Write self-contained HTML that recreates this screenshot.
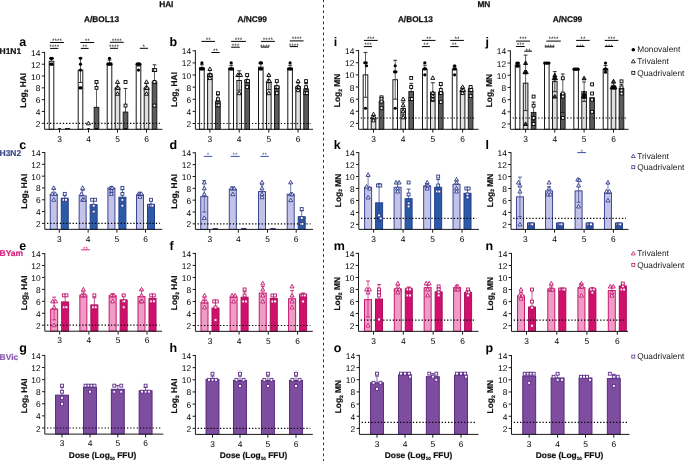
<!DOCTYPE html><html><head><meta charset="utf-8"><style>
html,body{margin:0;padding:0;background:#fff;}
svg{display:block;font-family:"Liberation Sans", sans-serif;will-change:transform;text-rendering:geometricPrecision;}
.tk{font-size:8.4px;fill:#000;}
.st{font-size:6.5px;}
.yt{font-size:8.4px;font-weight:bold;fill:#111;stroke:#111;stroke-width:0.2px;}
.hd{font-size:8.3px;font-weight:bold;fill:#111;stroke:#111;stroke-width:0.25px;}
.lt{font-size:12.5px;font-weight:bold;fill:#000;}
.rl{font-size:8.5px;font-weight:bold;stroke-width:0.2px;}
.lg{font-size:8.3px;fill:#1a1a1a;}
</style></head><body>
<svg width="685" height="461" viewBox="0 0 685 461">
<rect width="685" height="461" fill="#fff"/>
<text x="166.3" y="7.3" text-anchor="middle" class="hd">HAI</text>
<text x="483.9" y="7.3" text-anchor="middle" class="hd">MN</text>
<text x="101.5" y="22.1" text-anchor="middle" class="hd">A/BOL13</text>
<text x="252.2" y="22.1" text-anchor="middle" class="hd">A/NC99</text>
<text x="415.4" y="22.2" text-anchor="middle" class="hd">A/BOL13</text>
<text x="567.4" y="21.9" text-anchor="middle" class="hd">A/NC99</text>
<line x1="323.5" y1="-0.7" x2="323.5" y2="462" stroke="#333" stroke-width="1" stroke-dasharray="2.7 2.84"/>
<rect x="49.2" y="61.26" width="4.6" height="68.04" fill="#ffffff" stroke="#1a1a1a" stroke-width="1"/>
<line x1="51.5" y1="58.31" x2="51.5" y2="61.26" stroke="#1a1a1a" stroke-width="0.7"/>
<line x1="49.6" y1="58.31" x2="53.4" y2="58.31" stroke="#1a1a1a" stroke-width="0.9"/>
<rect x="78.2" y="70.12" width="4.6" height="59.18" fill="#ffffff" stroke="#1a1a1a" stroke-width="1"/>
<line x1="80.5" y1="57.72" x2="80.5" y2="70.12" stroke="#1a1a1a" stroke-width="0.7"/>
<line x1="78.6" y1="57.72" x2="82.4" y2="57.72" stroke="#1a1a1a" stroke-width="0.9"/>
<line x1="80.5" y1="70.12" x2="80.5" y2="82.53" stroke="#1a1a1a" stroke-width="0.7"/>
<line x1="78.6" y1="82.53" x2="82.4" y2="82.53" stroke="#1a1a1a" stroke-width="0.9"/>
<rect x="94.2" y="107.35" width="4.6" height="21.95" fill="#5c5c5c" stroke="#1a1a1a" stroke-width="1"/>
<line x1="96.5" y1="83.12" x2="96.5" y2="107.35" stroke="#1a1a1a" stroke-width="0.7"/>
<line x1="94.6" y1="83.12" x2="98.4" y2="83.12" stroke="#1a1a1a" stroke-width="0.9"/>
<rect x="107.2" y="63.03" width="4.6" height="66.27" fill="#ffffff" stroke="#1a1a1a" stroke-width="1"/>
<line x1="109.5" y1="60.08" x2="109.5" y2="63.03" stroke="#1a1a1a" stroke-width="0.7"/>
<line x1="107.6" y1="60.08" x2="111.4" y2="60.08" stroke="#1a1a1a" stroke-width="0.9"/>
<rect x="115.2" y="87.85" width="4.6" height="41.45" fill="#e0e0e0" stroke="#1a1a1a" stroke-width="1"/>
<line x1="117.5" y1="83.12" x2="117.5" y2="87.85" stroke="#1a1a1a" stroke-width="0.7"/>
<line x1="115.6" y1="83.12" x2="119.4" y2="83.12" stroke="#1a1a1a" stroke-width="0.9"/>
<rect x="123.2" y="112.07" width="4.6" height="17.23" fill="#5c5c5c" stroke="#1a1a1a" stroke-width="1"/>
<line x1="125.5" y1="88.44" x2="125.5" y2="112.07" stroke="#1a1a1a" stroke-width="0.7"/>
<line x1="123.6" y1="88.44" x2="127.4" y2="88.44" stroke="#1a1a1a" stroke-width="0.9"/>
<rect x="136.2" y="65.99" width="4.6" height="63.31" fill="#ffffff" stroke="#1a1a1a" stroke-width="1"/>
<line x1="138.5" y1="63.03" x2="138.5" y2="65.99" stroke="#1a1a1a" stroke-width="0.7"/>
<line x1="136.6" y1="63.03" x2="140.4" y2="63.03" stroke="#1a1a1a" stroke-width="0.9"/>
<rect x="144.2" y="87.85" width="4.6" height="41.45" fill="#e0e0e0" stroke="#1a1a1a" stroke-width="1"/>
<line x1="146.5" y1="83.12" x2="146.5" y2="87.85" stroke="#1a1a1a" stroke-width="0.7"/>
<line x1="144.6" y1="83.12" x2="148.4" y2="83.12" stroke="#1a1a1a" stroke-width="0.9"/>
<rect x="152.2" y="81.94" width="4.6" height="47.36" fill="#5c5c5c" stroke="#1a1a1a" stroke-width="1"/>
<line x1="154.5" y1="64.81" x2="154.5" y2="81.94" stroke="#1a1a1a" stroke-width="0.7"/>
<line x1="152.6" y1="64.81" x2="156.4" y2="64.81" stroke="#1a1a1a" stroke-width="0.9"/>
<line x1="46.8" y1="123.3" x2="159.9" y2="123.3" stroke="#000" stroke-width="1.2" stroke-dasharray="1.3 1.9"/>
<clipPath id="cla"><rect x="44.6" y="0" width="127.8" height="129.3"/></clipPath>
<g clip-path="url(#cla)">
<circle cx="50.8" cy="58.31" r="1.6" fill="#000"/>
<circle cx="52.2" cy="58.31" r="1.6" fill="#000"/>
<circle cx="50.8" cy="64.22" r="1.6" fill="#000"/>
<circle cx="52.2" cy="64.22" r="1.6" fill="#000"/>
<ellipse cx="59.5" cy="129.3" rx="1.6" ry="1.4" fill="#000"/>
<ellipse cx="66.3" cy="129.3" rx="1.6" ry="1.4" fill="#000"/>
<ellipse cx="68.7" cy="129.3" rx="1.6" ry="1.4" fill="#000"/>
<circle cx="80.5" cy="58.31" r="1.6" fill="#000"/>
<circle cx="80.5" cy="64.22" r="1.6" fill="#000"/>
<circle cx="80.5" cy="70.12" r="1.6" fill="#000"/>
<circle cx="79.8" cy="87.85" r="1.6" fill="#000"/>
<circle cx="81.2" cy="87.85" r="1.6" fill="#000"/>
<path d="M88.5 121.2L90.5 124.8L86.5 124.8Z" fill="#fff" fill-opacity="0.75" stroke="#000" stroke-width="0.9"/>
<ellipse cx="88.5" cy="129.3" rx="1.6" ry="1.4" fill="#000"/>
<rect x="95.05" y="80.49" width="2.9" height="2.9" fill="#fff" stroke="#000" stroke-width="0.9"/>
<rect x="95.05" y="86.4" width="2.9" height="2.9" fill="#fff" stroke="#000" stroke-width="0.9"/>
<ellipse cx="96.5" cy="129.3" rx="1.6" ry="1.4" fill="#000"/>
<circle cx="109.5" cy="58.31" r="1.6" fill="#000"/>
<circle cx="108.1" cy="64.22" r="1.6" fill="#000"/>
<circle cx="109.5" cy="64.22" r="1.6" fill="#000"/>
<circle cx="110.9" cy="64.22" r="1.6" fill="#000"/>
<path d="M117.5 79.84L119.5 83.44L115.5 83.44Z" fill="#fff" fill-opacity="0.75" stroke="#000" stroke-width="0.9"/>
<path d="M116.8 85.75L118.8 89.35L114.8 89.35Z" fill="#fff" fill-opacity="0.75" stroke="#000" stroke-width="0.9"/>
<path d="M118.2 85.75L120.2 89.35L116.2 89.35Z" fill="#fff" fill-opacity="0.75" stroke="#000" stroke-width="0.9"/>
<path d="M117.5 91.66L119.5 95.26L115.5 95.26Z" fill="#fff" fill-opacity="0.75" stroke="#000" stroke-width="0.9"/>
<rect x="124.05" y="80.49" width="2.9" height="2.9" fill="#fff" stroke="#000" stroke-width="0.9"/>
<rect x="124.05" y="104.12" width="2.9" height="2.9" fill="#fff" stroke="#000" stroke-width="0.9"/>
<ellipse cx="125.5" cy="129.3" rx="1.6" ry="1.4" fill="#000"/>
<circle cx="137.1" cy="64.22" r="1.6" fill="#000"/>
<circle cx="138.5" cy="64.22" r="1.6" fill="#000"/>
<circle cx="138.5" cy="70.12" r="1.6" fill="#000"/>
<circle cx="139.9" cy="64.22" r="1.6" fill="#000"/>
<path d="M146.5 79.84L148.5 83.44L144.5 83.44Z" fill="#fff" fill-opacity="0.75" stroke="#000" stroke-width="0.9"/>
<path d="M145.8 85.75L147.8 89.35L143.8 89.35Z" fill="#fff" fill-opacity="0.75" stroke="#000" stroke-width="0.9"/>
<path d="M147.2 85.75L149.2 89.35L145.2 89.35Z" fill="#fff" fill-opacity="0.75" stroke="#000" stroke-width="0.9"/>
<path d="M146.5 91.66L148.5 95.26L144.5 95.26Z" fill="#fff" fill-opacity="0.75" stroke="#000" stroke-width="0.9"/>
<rect x="152.35" y="68.67" width="2.9" height="2.9" fill="#fff" stroke="#000" stroke-width="0.9"/>
<rect x="153.75" y="68.67" width="2.9" height="2.9" fill="#fff" stroke="#000" stroke-width="0.9"/>
<rect x="153.05" y="80.49" width="2.9" height="2.9" fill="#fff" stroke="#000" stroke-width="0.9"/>
<rect x="153.05" y="104.12" width="2.9" height="2.9" fill="#fff" stroke="#000" stroke-width="0.9"/>
</g>
<path d="M44.6 51.9V129.3H162.4" fill="none" stroke="#1a1a1a" stroke-width="1"/>
<line x1="41.8" y1="123.3" x2="44.6" y2="123.3" stroke="#1a1a1a" stroke-width="1"/>
<text x="40.4" y="126.8" text-anchor="end" class="tk">2</text>
<line x1="41.8" y1="111.48" x2="44.6" y2="111.48" stroke="#1a1a1a" stroke-width="1"/>
<text x="40.4" y="114.98" text-anchor="end" class="tk">4</text>
<line x1="41.8" y1="99.67" x2="44.6" y2="99.67" stroke="#1a1a1a" stroke-width="1"/>
<text x="40.4" y="103.17" text-anchor="end" class="tk">6</text>
<line x1="41.8" y1="87.85" x2="44.6" y2="87.85" stroke="#1a1a1a" stroke-width="1"/>
<text x="40.4" y="91.35" text-anchor="end" class="tk">8</text>
<line x1="41.8" y1="76.03" x2="44.6" y2="76.03" stroke="#1a1a1a" stroke-width="1"/>
<text x="40.4" y="79.53" text-anchor="end" class="tk">10</text>
<line x1="41.8" y1="64.22" x2="44.6" y2="64.22" stroke="#1a1a1a" stroke-width="1"/>
<text x="40.4" y="67.72" text-anchor="end" class="tk">12</text>
<line x1="41.8" y1="52.4" x2="44.6" y2="52.4" stroke="#1a1a1a" stroke-width="1"/>
<text x="40.4" y="55.9" text-anchor="end" class="tk">14</text>
<line x1="59.5" y1="129.3" x2="59.5" y2="132.6" stroke="#1a1a1a" stroke-width="1"/>
<text x="59.5" y="141.5" text-anchor="middle" class="tk">3</text>
<line x1="88.5" y1="129.3" x2="88.5" y2="132.6" stroke="#1a1a1a" stroke-width="1"/>
<text x="88.5" y="141.5" text-anchor="middle" class="tk">4</text>
<line x1="117.5" y1="129.3" x2="117.5" y2="132.6" stroke="#1a1a1a" stroke-width="1"/>
<text x="117.5" y="141.5" text-anchor="middle" class="tk">5</text>
<line x1="146.5" y1="129.3" x2="146.5" y2="132.6" stroke="#1a1a1a" stroke-width="1"/>
<text x="146.5" y="141.5" text-anchor="middle" class="tk">6</text>
<line x1="50.1" y1="42.5" x2="63.9" y2="42.5" stroke="#000" stroke-width="1"/>
<text x="57" y="43" text-anchor="middle" class="st" fill="#000">****</text>
<line x1="50.1" y1="48.4" x2="58.3" y2="48.4" stroke="#000" stroke-width="1"/>
<text x="54.2" y="49.3" text-anchor="middle" class="st" fill="#000">****</text>
<line x1="80.4" y1="42.5" x2="94.1" y2="42.5" stroke="#000" stroke-width="1"/>
<text x="87.25" y="43" text-anchor="middle" class="st" fill="#000">**</text>
<line x1="80.8" y1="48.4" x2="88.6" y2="48.4" stroke="#000" stroke-width="1"/>
<text x="84.7" y="49.3" text-anchor="middle" class="st" fill="#000">**</text>
<line x1="110" y1="42.3" x2="123.7" y2="42.3" stroke="#000" stroke-width="1"/>
<text x="116.85" y="42.8" text-anchor="middle" class="st" fill="#000">****</text>
<line x1="110" y1="48.3" x2="118" y2="48.3" stroke="#000" stroke-width="1"/>
<text x="114" y="49.2" text-anchor="middle" class="st" fill="#000">****</text>
<line x1="139.8" y1="48.3" x2="147.9" y2="48.3" stroke="#000" stroke-width="1"/>
<text x="143.85" y="49.2" text-anchor="middle" class="st" fill="#000">*</text>
<text transform="translate(26.3 90.25) rotate(-90)" text-anchor="middle" class="yt">Log<tspan font-size="5" dy="1.6">2</tspan><tspan dy="-1.6"> HAI</tspan></text>
<rect x="199.6" y="67.76" width="4.6" height="61.54" fill="#ffffff" stroke="#1a1a1a" stroke-width="1"/>
<line x1="201.9" y1="64.73" x2="201.9" y2="67.76" stroke="#1a1a1a" stroke-width="0.7"/>
<line x1="200" y1="64.73" x2="203.8" y2="64.73" stroke="#1a1a1a" stroke-width="0.9"/>
<rect x="207.6" y="73.82" width="4.6" height="55.48" fill="#e0e0e0" stroke="#1a1a1a" stroke-width="1"/>
<line x1="209.9" y1="70.19" x2="209.9" y2="73.82" stroke="#1a1a1a" stroke-width="0.7"/>
<line x1="208" y1="70.19" x2="211.8" y2="70.19" stroke="#1a1a1a" stroke-width="0.9"/>
<rect x="215.6" y="101.08" width="4.6" height="28.22" fill="#5c5c5c" stroke="#1a1a1a" stroke-width="1"/>
<line x1="217.9" y1="95.03" x2="217.9" y2="101.08" stroke="#1a1a1a" stroke-width="0.7"/>
<line x1="216" y1="95.03" x2="219.8" y2="95.03" stroke="#1a1a1a" stroke-width="0.9"/>
<rect x="228.9" y="68.37" width="4.6" height="60.93" fill="#ffffff" stroke="#1a1a1a" stroke-width="1"/>
<line x1="231.2" y1="65.34" x2="231.2" y2="68.37" stroke="#1a1a1a" stroke-width="0.7"/>
<line x1="229.3" y1="65.34" x2="233.1" y2="65.34" stroke="#1a1a1a" stroke-width="0.9"/>
<rect x="236.9" y="80.49" width="4.6" height="48.81" fill="#e0e0e0" stroke="#1a1a1a" stroke-width="1"/>
<line x1="239.2" y1="70.79" x2="239.2" y2="80.49" stroke="#1a1a1a" stroke-width="0.7"/>
<line x1="237.3" y1="70.79" x2="241.1" y2="70.79" stroke="#1a1a1a" stroke-width="0.9"/>
<line x1="239.2" y1="80.49" x2="239.2" y2="90.18" stroke="#1a1a1a" stroke-width="0.7"/>
<line x1="237.3" y1="90.18" x2="241.1" y2="90.18" stroke="#1a1a1a" stroke-width="0.9"/>
<rect x="244.9" y="80.49" width="4.6" height="48.81" fill="#5c5c5c" stroke="#1a1a1a" stroke-width="1"/>
<line x1="247.2" y1="75.64" x2="247.2" y2="80.49" stroke="#1a1a1a" stroke-width="0.7"/>
<line x1="245.3" y1="75.64" x2="249.1" y2="75.64" stroke="#1a1a1a" stroke-width="0.9"/>
<rect x="258.5" y="67.16" width="4.6" height="62.14" fill="#ffffff" stroke="#1a1a1a" stroke-width="1"/>
<line x1="260.8" y1="63.52" x2="260.8" y2="67.16" stroke="#1a1a1a" stroke-width="0.7"/>
<line x1="258.9" y1="63.52" x2="262.7" y2="63.52" stroke="#1a1a1a" stroke-width="0.9"/>
<rect x="266.5" y="82.3" width="4.6" height="47" fill="#e0e0e0" stroke="#1a1a1a" stroke-width="1"/>
<line x1="268.8" y1="75.03" x2="268.8" y2="82.3" stroke="#1a1a1a" stroke-width="0.7"/>
<line x1="266.9" y1="75.03" x2="270.7" y2="75.03" stroke="#1a1a1a" stroke-width="0.9"/>
<line x1="268.8" y1="82.3" x2="268.8" y2="89.57" stroke="#1a1a1a" stroke-width="0.7"/>
<line x1="266.9" y1="89.57" x2="270.7" y2="89.57" stroke="#1a1a1a" stroke-width="0.9"/>
<rect x="274.5" y="86.54" width="4.6" height="42.76" fill="#5c5c5c" stroke="#1a1a1a" stroke-width="1"/>
<line x1="276.8" y1="81.7" x2="276.8" y2="86.54" stroke="#1a1a1a" stroke-width="0.7"/>
<line x1="274.9" y1="81.7" x2="278.7" y2="81.7" stroke="#1a1a1a" stroke-width="0.9"/>
<rect x="287.8" y="68.37" width="4.6" height="60.93" fill="#ffffff" stroke="#1a1a1a" stroke-width="1"/>
<line x1="290.1" y1="65.34" x2="290.1" y2="68.37" stroke="#1a1a1a" stroke-width="0.7"/>
<line x1="288.2" y1="65.34" x2="292" y2="65.34" stroke="#1a1a1a" stroke-width="0.9"/>
<rect x="295.8" y="86.54" width="4.6" height="42.76" fill="#e0e0e0" stroke="#1a1a1a" stroke-width="1"/>
<line x1="298.1" y1="82.91" x2="298.1" y2="86.54" stroke="#1a1a1a" stroke-width="0.7"/>
<line x1="296.2" y1="82.91" x2="300" y2="82.91" stroke="#1a1a1a" stroke-width="0.9"/>
<rect x="303.8" y="88.97" width="4.6" height="40.33" fill="#5c5c5c" stroke="#1a1a1a" stroke-width="1"/>
<line x1="306.1" y1="83.52" x2="306.1" y2="88.97" stroke="#1a1a1a" stroke-width="0.7"/>
<line x1="304.2" y1="83.52" x2="308" y2="83.52" stroke="#1a1a1a" stroke-width="0.9"/>
<line x1="197.6" y1="123.5" x2="310.5" y2="123.5" stroke="#000" stroke-width="1.2" stroke-dasharray="1.3 1.9"/>
<clipPath id="clb"><rect x="195.4" y="0" width="127.6" height="129.3"/></clipPath>
<g clip-path="url(#clb)">
<circle cx="201.9" cy="62.92" r="1.6" fill="#000"/>
<circle cx="200.5" cy="68.97" r="1.6" fill="#000"/>
<circle cx="201.9" cy="68.97" r="1.6" fill="#000"/>
<circle cx="203.3" cy="68.97" r="1.6" fill="#000"/>
<path d="M209.9 66.88L211.9 70.47L207.9 70.47Z" fill="#fff" fill-opacity="0.75" stroke="#000" stroke-width="0.9"/>
<path d="M209.2 72.93L211.2 76.53L207.2 76.53Z" fill="#fff" fill-opacity="0.75" stroke="#000" stroke-width="0.9"/>
<path d="M210.6 72.93L212.6 76.53L208.6 76.53Z" fill="#fff" fill-opacity="0.75" stroke="#000" stroke-width="0.9"/>
<path d="M209.9 75.96L211.9 79.56L207.9 79.56Z" fill="#fff" fill-opacity="0.75" stroke="#000" stroke-width="0.9"/>
<rect x="216.45" y="91.76" width="2.9" height="2.9" fill="#fff" stroke="#000" stroke-width="0.9"/>
<rect x="216.45" y="97.82" width="2.9" height="2.9" fill="#fff" stroke="#000" stroke-width="0.9"/>
<rect x="215.75" y="103.88" width="2.9" height="2.9" fill="#fff" stroke="#000" stroke-width="0.9"/>
<rect x="217.15" y="103.88" width="2.9" height="2.9" fill="#fff" stroke="#000" stroke-width="0.9"/>
<circle cx="231.2" cy="62.92" r="1.6" fill="#000"/>
<circle cx="229.8" cy="68.97" r="1.6" fill="#000"/>
<circle cx="231.2" cy="68.97" r="1.6" fill="#000"/>
<circle cx="232.6" cy="68.97" r="1.6" fill="#000"/>
<path d="M237.8 72.93L239.8 76.53L235.8 76.53Z" fill="#fff" fill-opacity="0.75" stroke="#000" stroke-width="0.9"/>
<path d="M239.2 72.93L241.2 76.53L237.2 76.53Z" fill="#fff" fill-opacity="0.75" stroke="#000" stroke-width="0.9"/>
<path d="M240.6 72.93L242.6 76.53L238.6 76.53Z" fill="#fff" fill-opacity="0.75" stroke="#000" stroke-width="0.9"/>
<path d="M239.2 91.11L241.2 94.71L237.2 94.71Z" fill="#fff" fill-opacity="0.75" stroke="#000" stroke-width="0.9"/>
<rect x="245.75" y="73.58" width="2.9" height="2.9" fill="#fff" stroke="#000" stroke-width="0.9"/>
<rect x="245.05" y="79.64" width="2.9" height="2.9" fill="#fff" stroke="#000" stroke-width="0.9"/>
<rect x="246.45" y="79.64" width="2.9" height="2.9" fill="#fff" stroke="#000" stroke-width="0.9"/>
<rect x="245.75" y="85.7" width="2.9" height="2.9" fill="#fff" stroke="#000" stroke-width="0.9"/>
<circle cx="260.1" cy="62.92" r="1.6" fill="#000"/>
<circle cx="261.5" cy="62.92" r="1.6" fill="#000"/>
<circle cx="260.1" cy="68.97" r="1.6" fill="#000"/>
<circle cx="261.5" cy="68.97" r="1.6" fill="#000"/>
<path d="M268.8 72.93L270.8 76.53L266.8 76.53Z" fill="#fff" fill-opacity="0.75" stroke="#000" stroke-width="0.9"/>
<path d="M268.1 78.99L270.1 82.59L266.1 82.59Z" fill="#fff" fill-opacity="0.75" stroke="#000" stroke-width="0.9"/>
<path d="M269.5 78.99L271.5 82.59L267.5 82.59Z" fill="#fff" fill-opacity="0.75" stroke="#000" stroke-width="0.9"/>
<path d="M268.8 91.11L270.8 94.71L266.8 94.71Z" fill="#fff" fill-opacity="0.75" stroke="#000" stroke-width="0.9"/>
<rect x="275.35" y="79.64" width="2.9" height="2.9" fill="#fff" stroke="#000" stroke-width="0.9"/>
<rect x="274.65" y="85.7" width="2.9" height="2.9" fill="#fff" stroke="#000" stroke-width="0.9"/>
<rect x="276.05" y="85.7" width="2.9" height="2.9" fill="#fff" stroke="#000" stroke-width="0.9"/>
<rect x="275.35" y="91.76" width="2.9" height="2.9" fill="#fff" stroke="#000" stroke-width="0.9"/>
<circle cx="290.1" cy="62.92" r="1.6" fill="#000"/>
<circle cx="288.7" cy="68.97" r="1.6" fill="#000"/>
<circle cx="290.1" cy="68.97" r="1.6" fill="#000"/>
<circle cx="291.5" cy="68.97" r="1.6" fill="#000"/>
<path d="M298.1 78.99L300.1 82.59L296.1 82.59Z" fill="#fff" fill-opacity="0.75" stroke="#000" stroke-width="0.9"/>
<path d="M297.4 85.05L299.4 88.65L295.4 88.65Z" fill="#fff" fill-opacity="0.75" stroke="#000" stroke-width="0.9"/>
<path d="M298.8 85.05L300.8 88.65L296.8 88.65Z" fill="#fff" fill-opacity="0.75" stroke="#000" stroke-width="0.9"/>
<path d="M298.1 88.08L300.1 91.68L296.1 91.68Z" fill="#fff" fill-opacity="0.75" stroke="#000" stroke-width="0.9"/>
<rect x="304.65" y="79.64" width="2.9" height="2.9" fill="#fff" stroke="#000" stroke-width="0.9"/>
<rect x="304.65" y="85.7" width="2.9" height="2.9" fill="#fff" stroke="#000" stroke-width="0.9"/>
<rect x="303.95" y="91.76" width="2.9" height="2.9" fill="#fff" stroke="#000" stroke-width="0.9"/>
<rect x="305.35" y="91.76" width="2.9" height="2.9" fill="#fff" stroke="#000" stroke-width="0.9"/>
</g>
<path d="M195.4 50.3V129.3H313" fill="none" stroke="#1a1a1a" stroke-width="1"/>
<line x1="192.6" y1="123.5" x2="195.4" y2="123.5" stroke="#1a1a1a" stroke-width="1"/>
<text x="191.2" y="127" text-anchor="end" class="tk">2</text>
<line x1="192.6" y1="111.38" x2="195.4" y2="111.38" stroke="#1a1a1a" stroke-width="1"/>
<text x="191.2" y="114.88" text-anchor="end" class="tk">4</text>
<line x1="192.6" y1="99.27" x2="195.4" y2="99.27" stroke="#1a1a1a" stroke-width="1"/>
<text x="191.2" y="102.77" text-anchor="end" class="tk">6</text>
<line x1="192.6" y1="87.15" x2="195.4" y2="87.15" stroke="#1a1a1a" stroke-width="1"/>
<text x="191.2" y="90.65" text-anchor="end" class="tk">8</text>
<line x1="192.6" y1="75.03" x2="195.4" y2="75.03" stroke="#1a1a1a" stroke-width="1"/>
<text x="191.2" y="78.53" text-anchor="end" class="tk">10</text>
<line x1="192.6" y1="62.92" x2="195.4" y2="62.92" stroke="#1a1a1a" stroke-width="1"/>
<text x="191.2" y="66.42" text-anchor="end" class="tk">12</text>
<line x1="192.6" y1="50.8" x2="195.4" y2="50.8" stroke="#1a1a1a" stroke-width="1"/>
<text x="191.2" y="54.3" text-anchor="end" class="tk">14</text>
<line x1="209.9" y1="129.3" x2="209.9" y2="132.6" stroke="#1a1a1a" stroke-width="1"/>
<text x="209.9" y="141.5" text-anchor="middle" class="tk">3</text>
<line x1="239.2" y1="129.3" x2="239.2" y2="132.6" stroke="#1a1a1a" stroke-width="1"/>
<text x="239.2" y="141.5" text-anchor="middle" class="tk">4</text>
<line x1="268.8" y1="129.3" x2="268.8" y2="132.6" stroke="#1a1a1a" stroke-width="1"/>
<text x="268.8" y="141.5" text-anchor="middle" class="tk">5</text>
<line x1="298.1" y1="129.3" x2="298.1" y2="132.6" stroke="#1a1a1a" stroke-width="1"/>
<text x="298.1" y="141.5" text-anchor="middle" class="tk">6</text>
<line x1="201.4" y1="41.4" x2="215" y2="41.4" stroke="#000" stroke-width="1"/>
<text x="208.2" y="41.9" text-anchor="middle" class="st" fill="#000">**</text>
<line x1="211.4" y1="52.5" x2="219.6" y2="52.5" stroke="#000" stroke-width="1"/>
<text x="215.5" y="53.2" text-anchor="middle" class="st" fill="#000">**</text>
<line x1="231.2" y1="41.4" x2="245.9" y2="41.4" stroke="#000" stroke-width="1"/>
<text x="238.55" y="41.7" text-anchor="middle" class="st" fill="#000">***</text>
<line x1="231.2" y1="47.2" x2="239.8" y2="47.2" stroke="#000" stroke-width="1"/>
<text x="235.5" y="48.4" text-anchor="middle" class="st" fill="#000">***</text>
<line x1="260.9" y1="41.4" x2="274.9" y2="41.4" stroke="#000" stroke-width="1"/>
<text x="267.9" y="41.6" text-anchor="middle" class="st" fill="#000">****</text>
<line x1="260.9" y1="47.1" x2="269" y2="47.1" stroke="#000" stroke-width="1"/>
<text x="264.95" y="48.5" text-anchor="middle" class="st" fill="#000">****</text>
<line x1="289.8" y1="40.9" x2="303.6" y2="40.9" stroke="#000" stroke-width="1"/>
<text x="296.7" y="41.1" text-anchor="middle" class="st" fill="#000">****</text>
<line x1="289.8" y1="46.6" x2="297.9" y2="46.6" stroke="#000" stroke-width="1"/>
<text x="293.85" y="48" text-anchor="middle" class="st" fill="#000">****</text>
<text transform="translate(177.1 89.45) rotate(-90)" text-anchor="middle" class="yt">Log<tspan font-size="5" dy="1.6">2</tspan><tspan dy="-1.6"> HAI</tspan></text>
<rect x="363.2" y="74.87" width="4.6" height="54.43" fill="#ffffff" stroke="#1a1a1a" stroke-width="1"/>
<line x1="365.5" y1="52.42" x2="365.5" y2="74.87" stroke="#1a1a1a" stroke-width="0.7"/>
<line x1="363.6" y1="52.42" x2="367.4" y2="52.42" stroke="#1a1a1a" stroke-width="0.9"/>
<line x1="365.5" y1="74.87" x2="365.5" y2="97.31" stroke="#1a1a1a" stroke-width="0.7"/>
<line x1="363.6" y1="97.31" x2="367.4" y2="97.31" stroke="#1a1a1a" stroke-width="0.9"/>
<rect x="371.2" y="117.64" width="4.6" height="11.66" fill="#e0e0e0" stroke="#1a1a1a" stroke-width="1"/>
<line x1="373.5" y1="115.51" x2="373.5" y2="117.64" stroke="#1a1a1a" stroke-width="0.7"/>
<line x1="371.6" y1="115.51" x2="375.4" y2="115.51" stroke="#1a1a1a" stroke-width="0.9"/>
<rect x="379.2" y="101.56" width="4.6" height="27.74" fill="#5c5c5c" stroke="#1a1a1a" stroke-width="1"/>
<line x1="381.5" y1="97.31" x2="381.5" y2="101.56" stroke="#1a1a1a" stroke-width="0.7"/>
<line x1="379.6" y1="97.31" x2="383.4" y2="97.31" stroke="#1a1a1a" stroke-width="0.9"/>
<rect x="392.9" y="79.72" width="4.6" height="49.58" fill="#ffffff" stroke="#1a1a1a" stroke-width="1"/>
<line x1="395.2" y1="60.31" x2="395.2" y2="79.72" stroke="#1a1a1a" stroke-width="0.7"/>
<line x1="393.3" y1="60.31" x2="397.1" y2="60.31" stroke="#1a1a1a" stroke-width="0.9"/>
<line x1="395.2" y1="79.72" x2="395.2" y2="99.13" stroke="#1a1a1a" stroke-width="0.7"/>
<line x1="393.3" y1="99.13" x2="397.1" y2="99.13" stroke="#1a1a1a" stroke-width="0.9"/>
<rect x="400.9" y="108.54" width="4.6" height="20.76" fill="#e0e0e0" stroke="#1a1a1a" stroke-width="1"/>
<line x1="403.2" y1="102.17" x2="403.2" y2="108.54" stroke="#1a1a1a" stroke-width="0.7"/>
<line x1="401.3" y1="102.17" x2="405.1" y2="102.17" stroke="#1a1a1a" stroke-width="0.9"/>
<line x1="403.2" y1="108.54" x2="403.2" y2="114.91" stroke="#1a1a1a" stroke-width="0.7"/>
<line x1="401.3" y1="114.91" x2="405.1" y2="114.91" stroke="#1a1a1a" stroke-width="0.9"/>
<rect x="408.9" y="91.55" width="4.6" height="37.75" fill="#5c5c5c" stroke="#1a1a1a" stroke-width="1"/>
<line x1="411.2" y1="83.36" x2="411.2" y2="91.55" stroke="#1a1a1a" stroke-width="0.7"/>
<line x1="409.3" y1="83.36" x2="413.1" y2="83.36" stroke="#1a1a1a" stroke-width="0.9"/>
<rect x="422.5" y="69.41" width="4.6" height="59.89" fill="#ffffff" stroke="#1a1a1a" stroke-width="1"/>
<line x1="424.8" y1="65.16" x2="424.8" y2="69.41" stroke="#1a1a1a" stroke-width="0.7"/>
<line x1="422.9" y1="65.16" x2="426.7" y2="65.16" stroke="#1a1a1a" stroke-width="0.9"/>
<rect x="430.5" y="92.16" width="4.6" height="37.14" fill="#e0e0e0" stroke="#1a1a1a" stroke-width="1"/>
<line x1="432.8" y1="82.75" x2="432.8" y2="92.16" stroke="#1a1a1a" stroke-width="0.7"/>
<line x1="430.9" y1="82.75" x2="434.7" y2="82.75" stroke="#1a1a1a" stroke-width="0.9"/>
<line x1="432.8" y1="92.16" x2="432.8" y2="101.56" stroke="#1a1a1a" stroke-width="0.7"/>
<line x1="430.9" y1="101.56" x2="434.7" y2="101.56" stroke="#1a1a1a" stroke-width="0.9"/>
<rect x="438.5" y="92.16" width="4.6" height="37.14" fill="#5c5c5c" stroke="#1a1a1a" stroke-width="1"/>
<line x1="440.8" y1="85.18" x2="440.8" y2="92.16" stroke="#1a1a1a" stroke-width="0.7"/>
<line x1="438.9" y1="85.18" x2="442.7" y2="85.18" stroke="#1a1a1a" stroke-width="0.9"/>
<rect x="452.3" y="69.71" width="4.6" height="59.59" fill="#ffffff" stroke="#1a1a1a" stroke-width="1"/>
<line x1="454.6" y1="66.37" x2="454.6" y2="69.71" stroke="#1a1a1a" stroke-width="0.7"/>
<line x1="452.7" y1="66.37" x2="456.5" y2="66.37" stroke="#1a1a1a" stroke-width="0.9"/>
<rect x="460.3" y="90.22" width="4.6" height="39.08" fill="#e0e0e0" stroke="#1a1a1a" stroke-width="1"/>
<line x1="462.6" y1="87.61" x2="462.6" y2="90.22" stroke="#1a1a1a" stroke-width="0.7"/>
<line x1="460.7" y1="87.61" x2="464.5" y2="87.61" stroke="#1a1a1a" stroke-width="0.9"/>
<rect x="468.3" y="90.82" width="4.6" height="38.48" fill="#5c5c5c" stroke="#1a1a1a" stroke-width="1"/>
<line x1="470.6" y1="87.61" x2="470.6" y2="90.82" stroke="#1a1a1a" stroke-width="0.7"/>
<line x1="468.7" y1="87.61" x2="472.5" y2="87.61" stroke="#1a1a1a" stroke-width="0.9"/>
<line x1="360.8" y1="118" x2="476" y2="118" stroke="#000" stroke-width="1.2" stroke-dasharray="1.3 1.9"/>
<clipPath id="cli"><rect x="358.6" y="0" width="129.9" height="129.3"/></clipPath>
<g clip-path="url(#cli)">
<circle cx="364.8" cy="62.73" r="1.6" fill="#000"/>
<circle cx="366.5" cy="65.77" r="1.6" fill="#000"/>
<circle cx="366.2" cy="62.73" r="1.6" fill="#000"/>
<circle cx="365.5" cy="108.23" r="1.6" fill="#000"/>
<path d="M373.5 112.2L375.5 115.8L371.5 115.8Z" fill="#fff" fill-opacity="0.75" stroke="#000" stroke-width="0.9"/>
<path d="M372.8 115.23L374.8 118.83L370.8 118.83Z" fill="#fff" fill-opacity="0.75" stroke="#000" stroke-width="0.9"/>
<path d="M374.2 115.23L376.2 118.83L372.2 118.83Z" fill="#fff" fill-opacity="0.75" stroke="#000" stroke-width="0.9"/>
<path d="M373.5 118.27L375.5 121.87L371.5 121.87Z" fill="#fff" fill-opacity="0.75" stroke="#000" stroke-width="0.9"/>
<rect x="380.05" y="95.86" width="2.9" height="2.9" fill="#fff" stroke="#000" stroke-width="0.9"/>
<rect x="380.05" y="97.68" width="2.9" height="2.9" fill="#fff" stroke="#000" stroke-width="0.9"/>
<rect x="380.05" y="100.11" width="2.9" height="2.9" fill="#fff" stroke="#000" stroke-width="0.9"/>
<rect x="380.05" y="106.78" width="2.9" height="2.9" fill="#fff" stroke="#000" stroke-width="0.9"/>
<circle cx="395.2" cy="65.77" r="1.6" fill="#000"/>
<circle cx="394.5" cy="71.83" r="1.6" fill="#000"/>
<circle cx="395.9" cy="71.83" r="1.6" fill="#000"/>
<circle cx="395.2" cy="108.23" r="1.6" fill="#000"/>
<path d="M403.2 97.03L405.2 100.63L401.2 100.63Z" fill="#fff" fill-opacity="0.75" stroke="#000" stroke-width="0.9"/>
<path d="M403.2 103.1L405.2 106.7L401.2 106.7Z" fill="#fff" fill-opacity="0.75" stroke="#000" stroke-width="0.9"/>
<path d="M403.2 109.17L405.2 112.77L401.2 112.77Z" fill="#fff" fill-opacity="0.75" stroke="#000" stroke-width="0.9"/>
<path d="M403.2 115.23L405.2 118.83L401.2 118.83Z" fill="#fff" fill-opacity="0.75" stroke="#000" stroke-width="0.9"/>
<rect x="409.75" y="76.45" width="2.9" height="2.9" fill="#fff" stroke="#000" stroke-width="0.9"/>
<rect x="409.75" y="85.55" width="2.9" height="2.9" fill="#fff" stroke="#000" stroke-width="0.9"/>
<rect x="409.05" y="97.68" width="2.9" height="2.9" fill="#fff" stroke="#000" stroke-width="0.9"/>
<rect x="410.45" y="97.68" width="2.9" height="2.9" fill="#fff" stroke="#000" stroke-width="0.9"/>
<circle cx="424.8" cy="62.73" r="1.6" fill="#000"/>
<circle cx="424.1" cy="68.8" r="1.6" fill="#000"/>
<circle cx="425.5" cy="68.8" r="1.6" fill="#000"/>
<circle cx="424.8" cy="74.87" r="1.6" fill="#000"/>
<path d="M432.8 75.8L434.8 79.4L430.8 79.4Z" fill="#fff" fill-opacity="0.75" stroke="#000" stroke-width="0.9"/>
<path d="M432.8 90.97L434.8 94.57L430.8 94.57Z" fill="#fff" fill-opacity="0.75" stroke="#000" stroke-width="0.9"/>
<path d="M432.8 94L434.8 97.6L430.8 97.6Z" fill="#fff" fill-opacity="0.75" stroke="#000" stroke-width="0.9"/>
<path d="M432.8 97.03L434.8 100.63L430.8 100.63Z" fill="#fff" fill-opacity="0.75" stroke="#000" stroke-width="0.9"/>
<rect x="439.35" y="82.52" width="2.9" height="2.9" fill="#fff" stroke="#000" stroke-width="0.9"/>
<rect x="439.35" y="88.58" width="2.9" height="2.9" fill="#fff" stroke="#000" stroke-width="0.9"/>
<rect x="439.35" y="91.62" width="2.9" height="2.9" fill="#fff" stroke="#000" stroke-width="0.9"/>
<rect x="439.35" y="100.72" width="2.9" height="2.9" fill="#fff" stroke="#000" stroke-width="0.9"/>
<circle cx="454.6" cy="65.77" r="1.6" fill="#000"/>
<circle cx="453.9" cy="68.8" r="1.6" fill="#000"/>
<circle cx="455.3" cy="68.8" r="1.6" fill="#000"/>
<circle cx="454.6" cy="74.87" r="1.6" fill="#000"/>
<path d="M462.6 84.9L464.6 88.5L460.6 88.5Z" fill="#fff" fill-opacity="0.75" stroke="#000" stroke-width="0.9"/>
<path d="M461.9 87.93L463.9 91.53L459.9 91.53Z" fill="#fff" fill-opacity="0.75" stroke="#000" stroke-width="0.9"/>
<path d="M463.3 87.93L465.3 91.53L461.3 91.53Z" fill="#fff" fill-opacity="0.75" stroke="#000" stroke-width="0.9"/>
<path d="M462.6 90.97L464.6 94.57L460.6 94.57Z" fill="#fff" fill-opacity="0.75" stroke="#000" stroke-width="0.9"/>
<rect x="469.15" y="85.55" width="2.9" height="2.9" fill="#fff" stroke="#000" stroke-width="0.9"/>
<rect x="468.45" y="88.58" width="2.9" height="2.9" fill="#fff" stroke="#000" stroke-width="0.9"/>
<rect x="469.85" y="88.58" width="2.9" height="2.9" fill="#fff" stroke="#000" stroke-width="0.9"/>
<rect x="469.15" y="94.65" width="2.9" height="2.9" fill="#fff" stroke="#000" stroke-width="0.9"/>
</g>
<path d="M358.6 50.1V129.3H478.5" fill="none" stroke="#1a1a1a" stroke-width="1"/>
<line x1="355.8" y1="123.4" x2="358.6" y2="123.4" stroke="#1a1a1a" stroke-width="1"/>
<text x="354.4" y="126.9" text-anchor="end" class="tk">2</text>
<line x1="355.8" y1="111.27" x2="358.6" y2="111.27" stroke="#1a1a1a" stroke-width="1"/>
<text x="354.4" y="114.77" text-anchor="end" class="tk">4</text>
<line x1="355.8" y1="99.13" x2="358.6" y2="99.13" stroke="#1a1a1a" stroke-width="1"/>
<text x="354.4" y="102.63" text-anchor="end" class="tk">6</text>
<line x1="355.8" y1="87" x2="358.6" y2="87" stroke="#1a1a1a" stroke-width="1"/>
<text x="354.4" y="90.5" text-anchor="end" class="tk">8</text>
<line x1="355.8" y1="74.87" x2="358.6" y2="74.87" stroke="#1a1a1a" stroke-width="1"/>
<text x="354.4" y="78.37" text-anchor="end" class="tk">10</text>
<line x1="355.8" y1="62.73" x2="358.6" y2="62.73" stroke="#1a1a1a" stroke-width="1"/>
<text x="354.4" y="66.23" text-anchor="end" class="tk">12</text>
<line x1="355.8" y1="50.6" x2="358.6" y2="50.6" stroke="#1a1a1a" stroke-width="1"/>
<text x="354.4" y="54.1" text-anchor="end" class="tk">14</text>
<line x1="373.5" y1="129.3" x2="373.5" y2="132.6" stroke="#1a1a1a" stroke-width="1"/>
<text x="373.5" y="141.5" text-anchor="middle" class="tk">3</text>
<line x1="403.2" y1="129.3" x2="403.2" y2="132.6" stroke="#1a1a1a" stroke-width="1"/>
<text x="403.2" y="141.5" text-anchor="middle" class="tk">4</text>
<line x1="432.8" y1="129.3" x2="432.8" y2="132.6" stroke="#1a1a1a" stroke-width="1"/>
<text x="432.8" y="141.5" text-anchor="middle" class="tk">5</text>
<line x1="462.6" y1="129.3" x2="462.6" y2="132.6" stroke="#1a1a1a" stroke-width="1"/>
<text x="462.6" y="141.5" text-anchor="middle" class="tk">6</text>
<line x1="363.9" y1="40.4" x2="377.7" y2="40.4" stroke="#000" stroke-width="1"/>
<text x="370.8" y="40.9" text-anchor="middle" class="st" fill="#000">***</text>
<line x1="363.9" y1="46.6" x2="372" y2="46.6" stroke="#000" stroke-width="1"/>
<text x="367.95" y="47.4" text-anchor="middle" class="st" fill="#000">***</text>
<line x1="421.9" y1="40.4" x2="435.5" y2="40.4" stroke="#000" stroke-width="1"/>
<text x="428.7" y="40.9" text-anchor="middle" class="st" fill="#000">**</text>
<line x1="421.9" y1="46.6" x2="429.9" y2="46.6" stroke="#000" stroke-width="1"/>
<text x="425.9" y="47.4" text-anchor="middle" class="st" fill="#000">**</text>
<line x1="450.2" y1="40.4" x2="463.9" y2="40.4" stroke="#000" stroke-width="1"/>
<text x="457.05" y="40.9" text-anchor="middle" class="st" fill="#000">**</text>
<line x1="450.2" y1="46.6" x2="458.5" y2="46.6" stroke="#000" stroke-width="1"/>
<text x="454.35" y="47.4" text-anchor="middle" class="st" fill="#000">**</text>
<text transform="translate(340.3 90.45) rotate(-90)" text-anchor="middle" class="yt">Log<tspan font-size="5" dy="1.6">2</tspan><tspan dy="-1.6"> MN</tspan></text>
<rect x="515.3" y="64.87" width="4.6" height="64.43" fill="#ffffff" stroke="#1a1a1a" stroke-width="1"/>
<line x1="517.6" y1="63.04" x2="517.6" y2="64.87" stroke="#1a1a1a" stroke-width="0.7"/>
<line x1="515.7" y1="63.04" x2="519.5" y2="63.04" stroke="#1a1a1a" stroke-width="0.9"/>
<rect x="523.3" y="83.16" width="4.6" height="46.14" fill="#e0e0e0" stroke="#1a1a1a" stroke-width="1"/>
<line x1="525.6" y1="55.12" x2="525.6" y2="83.16" stroke="#1a1a1a" stroke-width="0.7"/>
<line x1="523.7" y1="55.12" x2="527.5" y2="55.12" stroke="#1a1a1a" stroke-width="0.9"/>
<line x1="525.6" y1="83.16" x2="525.6" y2="110.59" stroke="#1a1a1a" stroke-width="0.7"/>
<line x1="523.7" y1="110.59" x2="527.5" y2="110.59" stroke="#1a1a1a" stroke-width="0.9"/>
<rect x="531.3" y="112.42" width="4.6" height="16.88" fill="#5c5c5c" stroke="#1a1a1a" stroke-width="1"/>
<line x1="533.6" y1="102.06" x2="533.6" y2="112.42" stroke="#1a1a1a" stroke-width="0.7"/>
<line x1="531.7" y1="102.06" x2="535.5" y2="102.06" stroke="#1a1a1a" stroke-width="0.9"/>
<line x1="533.6" y1="112.42" x2="533.6" y2="120.95" stroke="#1a1a1a" stroke-width="0.7"/>
<line x1="531.7" y1="120.95" x2="535.5" y2="120.95" stroke="#1a1a1a" stroke-width="0.9"/>
<rect x="544.5" y="63.04" width="4.6" height="66.26" fill="#ffffff" stroke="#1a1a1a" stroke-width="1"/>
<rect x="552.5" y="81.63" width="4.6" height="47.67" fill="#e0e0e0" stroke="#1a1a1a" stroke-width="1"/>
<line x1="554.8" y1="71.58" x2="554.8" y2="81.63" stroke="#1a1a1a" stroke-width="0.7"/>
<line x1="552.9" y1="71.58" x2="556.7" y2="71.58" stroke="#1a1a1a" stroke-width="0.9"/>
<line x1="554.8" y1="81.63" x2="554.8" y2="91.69" stroke="#1a1a1a" stroke-width="0.7"/>
<line x1="552.9" y1="91.69" x2="556.7" y2="91.69" stroke="#1a1a1a" stroke-width="0.9"/>
<rect x="560.5" y="93.52" width="4.6" height="35.78" fill="#5c5c5c" stroke="#1a1a1a" stroke-width="1"/>
<line x1="562.8" y1="74.01" x2="562.8" y2="93.52" stroke="#1a1a1a" stroke-width="0.7"/>
<line x1="560.9" y1="74.01" x2="564.7" y2="74.01" stroke="#1a1a1a" stroke-width="0.9"/>
<line x1="562.8" y1="93.52" x2="562.8" y2="112.42" stroke="#1a1a1a" stroke-width="0.7"/>
<line x1="560.9" y1="112.42" x2="564.7" y2="112.42" stroke="#1a1a1a" stroke-width="0.9"/>
<rect x="573.8" y="69.14" width="4.6" height="60.16" fill="#ffffff" stroke="#1a1a1a" stroke-width="1"/>
<rect x="581.8" y="91.69" width="4.6" height="37.61" fill="#e0e0e0" stroke="#1a1a1a" stroke-width="1"/>
<line x1="584.1" y1="81.94" x2="584.1" y2="91.69" stroke="#1a1a1a" stroke-width="0.7"/>
<line x1="582.2" y1="81.94" x2="586" y2="81.94" stroke="#1a1a1a" stroke-width="0.9"/>
<line x1="584.1" y1="91.69" x2="584.1" y2="101.45" stroke="#1a1a1a" stroke-width="0.7"/>
<line x1="582.2" y1="101.45" x2="586" y2="101.45" stroke="#1a1a1a" stroke-width="0.9"/>
<rect x="589.8" y="97.79" width="4.6" height="31.51" fill="#5c5c5c" stroke="#1a1a1a" stroke-width="1"/>
<rect x="603.2" y="69.14" width="4.6" height="60.16" fill="#ffffff" stroke="#1a1a1a" stroke-width="1"/>
<line x1="605.5" y1="65.48" x2="605.5" y2="69.14" stroke="#1a1a1a" stroke-width="0.7"/>
<line x1="603.6" y1="65.48" x2="607.4" y2="65.48" stroke="#1a1a1a" stroke-width="0.9"/>
<rect x="611.2" y="86.21" width="4.6" height="43.09" fill="#e0e0e0" stroke="#1a1a1a" stroke-width="1"/>
<line x1="613.5" y1="83.77" x2="613.5" y2="86.21" stroke="#1a1a1a" stroke-width="0.7"/>
<line x1="611.6" y1="83.77" x2="615.4" y2="83.77" stroke="#1a1a1a" stroke-width="0.9"/>
<rect x="619.2" y="88.34" width="4.6" height="40.96" fill="#5c5c5c" stroke="#1a1a1a" stroke-width="1"/>
<line x1="621.5" y1="84.38" x2="621.5" y2="88.34" stroke="#1a1a1a" stroke-width="0.7"/>
<line x1="619.6" y1="84.38" x2="623.4" y2="84.38" stroke="#1a1a1a" stroke-width="0.9"/>
<line x1="512.6" y1="118" x2="626" y2="118" stroke="#000" stroke-width="1.2" stroke-dasharray="1.3 1.9"/>
<clipPath id="clj"><rect x="510.4" y="0" width="128.1" height="129.3"/></clipPath>
<g clip-path="url(#clj)">
<circle cx="516.9" cy="63.04" r="1.6" fill="#000"/>
<circle cx="518.3" cy="63.04" r="1.6" fill="#000"/>
<circle cx="516.9" cy="66.09" r="1.6" fill="#000"/>
<circle cx="518.3" cy="66.09" r="1.6" fill="#000"/>
<path d="M525.6 60.94L527.6 64.54L523.6 64.54Z" fill="#000" fill-opacity="0.75" stroke="#000" stroke-width="0.9"/>
<path d="M524.9 70.09L526.9 73.69L522.9 73.69Z" fill="#000" fill-opacity="0.75" stroke="#000" stroke-width="0.9"/>
<path d="M526.3 70.09L528.3 73.69L524.3 73.69Z" fill="#000" fill-opacity="0.75" stroke="#000" stroke-width="0.9"/>
<path d="M525.6 121.9L527.6 125.5L523.6 125.5Z" fill="#000" fill-opacity="0.75" stroke="#000" stroke-width="0.9"/>
<rect x="532.15" y="95.12" width="2.9" height="2.9" fill="#fff" stroke="#000" stroke-width="0.9"/>
<rect x="532.15" y="104.26" width="2.9" height="2.9" fill="#fff" stroke="#000" stroke-width="0.9"/>
<rect x="532.15" y="116.45" width="2.9" height="2.9" fill="#fff" stroke="#000" stroke-width="0.9"/>
<rect x="532.15" y="122.55" width="2.9" height="2.9" fill="#fff" stroke="#000" stroke-width="0.9"/>
<circle cx="544.7" cy="63.04" r="1.6" fill="#000"/>
<circle cx="546.1" cy="63.04" r="1.6" fill="#000"/>
<circle cx="547.5" cy="63.04" r="1.6" fill="#000"/>
<circle cx="548.9" cy="63.04" r="1.6" fill="#000"/>
<path d="M554.8 73.13L556.8 76.73L552.8 76.73Z" fill="#000" fill-opacity="0.75" stroke="#000" stroke-width="0.9"/>
<path d="M554.1 76.18L556.1 79.78L552.1 79.78Z" fill="#000" fill-opacity="0.75" stroke="#000" stroke-width="0.9"/>
<path d="M555.5 76.18L557.5 79.78L553.5 79.78Z" fill="#000" fill-opacity="0.75" stroke="#000" stroke-width="0.9"/>
<path d="M554.8 94.47L556.8 98.07L552.8 98.07Z" fill="#000" fill-opacity="0.75" stroke="#000" stroke-width="0.9"/>
<rect x="561.35" y="76.83" width="2.9" height="2.9" fill="#fff" stroke="#000" stroke-width="0.9"/>
<rect x="561.35" y="92.07" width="2.9" height="2.9" fill="#fff" stroke="#000" stroke-width="0.9"/>
<rect x="561.35" y="95.12" width="2.9" height="2.9" fill="#fff" stroke="#000" stroke-width="0.9"/>
<rect x="561.35" y="116.45" width="2.9" height="2.9" fill="#fff" stroke="#000" stroke-width="0.9"/>
<circle cx="574" cy="69.14" r="1.6" fill="#000"/>
<circle cx="575.4" cy="69.14" r="1.6" fill="#000"/>
<circle cx="576.8" cy="69.14" r="1.6" fill="#000"/>
<circle cx="578.2" cy="69.14" r="1.6" fill="#000"/>
<path d="M584.1 76.18L586.1 79.78L582.1 79.78Z" fill="#000" fill-opacity="0.75" stroke="#000" stroke-width="0.9"/>
<path d="M584.1 91.42L586.1 95.02L582.1 95.02Z" fill="#000" fill-opacity="0.75" stroke="#000" stroke-width="0.9"/>
<path d="M583.4 94.47L585.4 98.07L581.4 98.07Z" fill="#000" fill-opacity="0.75" stroke="#000" stroke-width="0.9"/>
<path d="M584.8 94.47L586.8 98.07L582.8 98.07Z" fill="#000" fill-opacity="0.75" stroke="#000" stroke-width="0.9"/>
<rect x="590.65" y="82.93" width="2.9" height="2.9" fill="#fff" stroke="#000" stroke-width="0.9"/>
<rect x="590.65" y="92.07" width="2.9" height="2.9" fill="#fff" stroke="#000" stroke-width="0.9"/>
<rect x="590.65" y="98.17" width="2.9" height="2.9" fill="#fff" stroke="#000" stroke-width="0.9"/>
<rect x="590.65" y="110.36" width="2.9" height="2.9" fill="#fff" stroke="#000" stroke-width="0.9"/>
<circle cx="605.5" cy="63.04" r="1.6" fill="#000"/>
<circle cx="604.8" cy="69.14" r="1.6" fill="#000"/>
<circle cx="606.2" cy="69.14" r="1.6" fill="#000"/>
<circle cx="605.5" cy="72.19" r="1.6" fill="#000"/>
<path d="M613.5 79.23L615.5 82.83L611.5 82.83Z" fill="#000" fill-opacity="0.75" stroke="#000" stroke-width="0.9"/>
<path d="M612.1 85.33L614.1 88.92L610.1 88.92Z" fill="#000" fill-opacity="0.75" stroke="#000" stroke-width="0.9"/>
<path d="M613.5 85.33L615.5 88.92L611.5 88.92Z" fill="#000" fill-opacity="0.75" stroke="#000" stroke-width="0.9"/>
<path d="M614.9 85.33L616.9 88.92L612.9 88.92Z" fill="#000" fill-opacity="0.75" stroke="#000" stroke-width="0.9"/>
<rect x="620.05" y="79.88" width="2.9" height="2.9" fill="#fff" stroke="#000" stroke-width="0.9"/>
<rect x="620.05" y="85.97" width="2.9" height="2.9" fill="#fff" stroke="#000" stroke-width="0.9"/>
<rect x="620.05" y="89.02" width="2.9" height="2.9" fill="#fff" stroke="#000" stroke-width="0.9"/>
<rect x="620.05" y="92.07" width="2.9" height="2.9" fill="#fff" stroke="#000" stroke-width="0.9"/>
</g>
<path d="M510.4 50.35V129.3H628.5" fill="none" stroke="#1a1a1a" stroke-width="1"/>
<line x1="507.6" y1="124" x2="510.4" y2="124" stroke="#1a1a1a" stroke-width="1"/>
<text x="506.2" y="127.5" text-anchor="end" class="tk">2</text>
<line x1="507.6" y1="111.81" x2="510.4" y2="111.81" stroke="#1a1a1a" stroke-width="1"/>
<text x="506.2" y="115.31" text-anchor="end" class="tk">4</text>
<line x1="507.6" y1="99.62" x2="510.4" y2="99.62" stroke="#1a1a1a" stroke-width="1"/>
<text x="506.2" y="103.12" text-anchor="end" class="tk">6</text>
<line x1="507.6" y1="87.42" x2="510.4" y2="87.42" stroke="#1a1a1a" stroke-width="1"/>
<text x="506.2" y="90.92" text-anchor="end" class="tk">8</text>
<line x1="507.6" y1="75.23" x2="510.4" y2="75.23" stroke="#1a1a1a" stroke-width="1"/>
<text x="506.2" y="78.73" text-anchor="end" class="tk">10</text>
<line x1="507.6" y1="63.04" x2="510.4" y2="63.04" stroke="#1a1a1a" stroke-width="1"/>
<text x="506.2" y="66.54" text-anchor="end" class="tk">12</text>
<line x1="507.6" y1="50.85" x2="510.4" y2="50.85" stroke="#1a1a1a" stroke-width="1"/>
<text x="506.2" y="54.35" text-anchor="end" class="tk">14</text>
<line x1="525.6" y1="129.3" x2="525.6" y2="132.6" stroke="#1a1a1a" stroke-width="1"/>
<text x="525.6" y="141.5" text-anchor="middle" class="tk">3</text>
<line x1="554.8" y1="129.3" x2="554.8" y2="132.6" stroke="#1a1a1a" stroke-width="1"/>
<text x="554.8" y="141.5" text-anchor="middle" class="tk">4</text>
<line x1="584.1" y1="129.3" x2="584.1" y2="132.6" stroke="#1a1a1a" stroke-width="1"/>
<text x="584.1" y="141.5" text-anchor="middle" class="tk">5</text>
<line x1="613.5" y1="129.3" x2="613.5" y2="132.6" stroke="#1a1a1a" stroke-width="1"/>
<text x="613.5" y="141.5" text-anchor="middle" class="tk">6</text>
<line x1="516.1" y1="41.1" x2="530" y2="41.1" stroke="#000" stroke-width="1"/>
<text x="523.05" y="41.3" text-anchor="middle" class="st" fill="#000">***</text>
<line x1="516.1" y1="46.5" x2="524.8" y2="46.5" stroke="#000" stroke-width="1"/>
<text x="520.45" y="47.2" text-anchor="middle" class="st" fill="#000">***</text>
<line x1="524.3" y1="51.2" x2="532" y2="51.2" stroke="#000" stroke-width="1"/>
<text x="528.15" y="52.8" text-anchor="middle" class="st" fill="#000">**</text>
<line x1="546.4" y1="41.1" x2="560.8" y2="41.1" stroke="#000" stroke-width="1"/>
<text x="553.6" y="41.4" text-anchor="middle" class="st" fill="#000">****</text>
<line x1="544.7" y1="46.9" x2="554.5" y2="46.9" stroke="#000" stroke-width="1"/>
<text x="549.6" y="49.1" text-anchor="middle" class="st" fill="#000">****</text>
<line x1="576.1" y1="40.4" x2="589.7" y2="40.4" stroke="#000" stroke-width="1"/>
<text x="582.9" y="41.3" text-anchor="middle" class="st" fill="#000">**</text>
<line x1="576.1" y1="46.5" x2="584.5" y2="46.5" stroke="#000" stroke-width="1"/>
<text x="580.3" y="49.1" text-anchor="middle" class="st" fill="#000">***</text>
<line x1="604.7" y1="40.4" x2="618.4" y2="40.4" stroke="#000" stroke-width="1"/>
<text x="611.55" y="41.1" text-anchor="middle" class="st" fill="#000">***</text>
<line x1="604.7" y1="46.5" x2="613.2" y2="46.5" stroke="#000" stroke-width="1"/>
<text x="608.95" y="48.8" text-anchor="middle" class="st" fill="#000">***</text>
<text transform="translate(492.1 90.58) rotate(-90)" text-anchor="middle" class="yt">Log<tspan font-size="5" dy="1.6">2</tspan><tspan dy="-1.6"> MN</tspan></text>
<rect x="50.25" y="194.45" width="7" height="34.9" fill="#c3c3e9" stroke="#3d4895" stroke-width="1"/>
<line x1="53.75" y1="188.54" x2="53.75" y2="194.45" stroke="#3d4895" stroke-width="0.7"/>
<line x1="51.85" y1="188.54" x2="55.65" y2="188.54" stroke="#3d4895" stroke-width="0.9"/>
<rect x="61.25" y="198.29" width="7" height="31.06" fill="#2b5aa8" stroke="#233f8a" stroke-width="1"/>
<line x1="64.75" y1="195.63" x2="64.75" y2="198.29" stroke="#233f8a" stroke-width="0.7"/>
<line x1="62.85" y1="195.63" x2="66.65" y2="195.63" stroke="#233f8a" stroke-width="0.9"/>
<rect x="79.15" y="195.81" width="7" height="33.54" fill="#c3c3e9" stroke="#3d4895" stroke-width="1"/>
<line x1="82.65" y1="190.31" x2="82.65" y2="195.81" stroke="#3d4895" stroke-width="0.7"/>
<line x1="80.75" y1="190.31" x2="84.55" y2="190.31" stroke="#3d4895" stroke-width="0.9"/>
<rect x="90.15" y="204.67" width="7" height="24.68" fill="#2b5aa8" stroke="#233f8a" stroke-width="1"/>
<line x1="93.65" y1="199.77" x2="93.65" y2="204.67" stroke="#233f8a" stroke-width="0.7"/>
<line x1="91.75" y1="199.77" x2="95.55" y2="199.77" stroke="#233f8a" stroke-width="0.9"/>
<rect x="107.9" y="187.95" width="7" height="41.4" fill="#c3c3e9" stroke="#3d4895" stroke-width="1"/>
<line x1="111.4" y1="186.77" x2="111.4" y2="187.95" stroke="#3d4895" stroke-width="0.7"/>
<line x1="109.5" y1="186.77" x2="113.3" y2="186.77" stroke="#3d4895" stroke-width="0.9"/>
<rect x="118.9" y="197.23" width="7" height="32.12" fill="#2b5aa8" stroke="#233f8a" stroke-width="1"/>
<line x1="122.4" y1="189.72" x2="122.4" y2="197.23" stroke="#233f8a" stroke-width="0.7"/>
<line x1="120.5" y1="189.72" x2="124.3" y2="189.72" stroke="#233f8a" stroke-width="0.9"/>
<rect x="136.5" y="194.8" width="7" height="34.55" fill="#c3c3e9" stroke="#3d4895" stroke-width="1"/>
<line x1="140" y1="193.86" x2="140" y2="194.8" stroke="#3d4895" stroke-width="0.7"/>
<line x1="138.1" y1="193.86" x2="141.9" y2="193.86" stroke="#3d4895" stroke-width="0.9"/>
<rect x="147.5" y="204.49" width="7" height="24.86" fill="#2b5aa8" stroke="#233f8a" stroke-width="1"/>
<line x1="151" y1="200.95" x2="151" y2="204.49" stroke="#233f8a" stroke-width="0.7"/>
<line x1="149.1" y1="200.95" x2="152.9" y2="200.95" stroke="#233f8a" stroke-width="0.9"/>
<line x1="47" y1="223.4" x2="159.8" y2="223.4" stroke="#000" stroke-width="1.2" stroke-dasharray="1.3 1.9"/>
<clipPath id="clc"><rect x="44.8" y="0" width="127.5" height="229.35"/></clipPath>
<g clip-path="url(#clc)">
<path d="M53.75 185.85L55.75 189.45L51.75 189.45Z" fill="#fff" fill-opacity="0.75" stroke="#2e3a87" stroke-width="0.9"/>
<path d="M52.25 191.76L54.25 195.36L50.25 195.36Z" fill="#fff" fill-opacity="0.75" stroke="#2e3a87" stroke-width="0.9"/>
<path d="M55.25 191.76L57.25 195.36L53.25 195.36Z" fill="#fff" fill-opacity="0.75" stroke="#2e3a87" stroke-width="0.9"/>
<path d="M53.75 197.67L55.75 201.27L51.75 201.27Z" fill="#fff" fill-opacity="0.75" stroke="#2e3a87" stroke-width="0.9"/>
<rect x="63.3" y="192.41" width="2.9" height="2.9" fill="#fff" stroke="#2e3a87" stroke-width="0.9"/>
<rect x="62.1" y="198.32" width="2.9" height="2.9" fill="#fff" stroke="#2e3a87" stroke-width="0.9"/>
<rect x="64.5" y="198.32" width="2.9" height="2.9" fill="#fff" stroke="#2e3a87" stroke-width="0.9"/>
<path d="M82.65 185.85L84.65 189.45L80.65 189.45Z" fill="#fff" fill-opacity="0.75" stroke="#2e3a87" stroke-width="0.9"/>
<path d="M81.45 191.76L83.45 195.36L79.45 195.36Z" fill="#fff" fill-opacity="0.75" stroke="#2e3a87" stroke-width="0.9"/>
<path d="M82.65 197.67L84.65 201.27L80.65 201.27Z" fill="#fff" fill-opacity="0.75" stroke="#2e3a87" stroke-width="0.9"/>
<path d="M84.15 197.67L86.15 201.27L82.15 201.27Z" fill="#fff" fill-opacity="0.75" stroke="#2e3a87" stroke-width="0.9"/>
<rect x="90.7" y="198.32" width="2.9" height="2.9" fill="#fff" stroke="#2e3a87" stroke-width="0.9"/>
<rect x="93.7" y="198.32" width="2.9" height="2.9" fill="#fff" stroke="#2e3a87" stroke-width="0.9"/>
<rect x="92.2" y="204.23" width="2.9" height="2.9" fill="#fff" stroke="#2e3a87" stroke-width="0.9"/>
<rect x="92.2" y="210.13" width="2.9" height="2.9" fill="#fff" stroke="#2e3a87" stroke-width="0.9"/>
<path d="M110.7 185.85L112.7 189.45L108.7 189.45Z" fill="#fff" fill-opacity="0.75" stroke="#2e3a87" stroke-width="0.9"/>
<path d="M112.1 185.85L114.1 189.45L110.1 189.45Z" fill="#fff" fill-opacity="0.75" stroke="#2e3a87" stroke-width="0.9"/>
<path d="M111.4 188.8L113.4 192.4L109.4 192.4Z" fill="#fff" fill-opacity="0.75" stroke="#2e3a87" stroke-width="0.9"/>
<path d="M111.4 191.76L113.4 195.36L109.4 195.36Z" fill="#fff" fill-opacity="0.75" stroke="#2e3a87" stroke-width="0.9"/>
<rect x="120.95" y="186.5" width="2.9" height="2.9" fill="#fff" stroke="#2e3a87" stroke-width="0.9"/>
<rect x="120.95" y="192.41" width="2.9" height="2.9" fill="#fff" stroke="#2e3a87" stroke-width="0.9"/>
<rect x="120.95" y="198.32" width="2.9" height="2.9" fill="#fff" stroke="#2e3a87" stroke-width="0.9"/>
<rect x="120.95" y="204.23" width="2.9" height="2.9" fill="#fff" stroke="#2e3a87" stroke-width="0.9"/>
<path d="M138.6 191.76L140.6 195.36L136.6 195.36Z" fill="#fff" fill-opacity="0.75" stroke="#2e3a87" stroke-width="0.9"/>
<path d="M140 191.76L142 195.36L138 195.36Z" fill="#fff" fill-opacity="0.75" stroke="#2e3a87" stroke-width="0.9"/>
<path d="M141.4 191.76L143.4 195.36L139.4 195.36Z" fill="#fff" fill-opacity="0.75" stroke="#2e3a87" stroke-width="0.9"/>
<path d="M140 194.71L142 198.31L138 198.31Z" fill="#fff" fill-opacity="0.75" stroke="#2e3a87" stroke-width="0.9"/>
<rect x="149.55" y="198.32" width="2.9" height="2.9" fill="#fff" stroke="#2e3a87" stroke-width="0.9"/>
<rect x="148.05" y="204.23" width="2.9" height="2.9" fill="#fff" stroke="#2e3a87" stroke-width="0.9"/>
<rect x="149.55" y="204.23" width="2.9" height="2.9" fill="#fff" stroke="#2e3a87" stroke-width="0.9"/>
<rect x="151.05" y="204.23" width="2.9" height="2.9" fill="#fff" stroke="#2e3a87" stroke-width="0.9"/>
</g>
<path d="M44.8 152V229.35H162.3" fill="none" stroke="#1a1a1a" stroke-width="1"/>
<line x1="42" y1="223.4" x2="44.8" y2="223.4" stroke="#1a1a1a" stroke-width="1"/>
<text x="40.6" y="226.9" text-anchor="end" class="tk">2</text>
<line x1="42" y1="211.58" x2="44.8" y2="211.58" stroke="#1a1a1a" stroke-width="1"/>
<text x="40.6" y="215.08" text-anchor="end" class="tk">4</text>
<line x1="42" y1="199.77" x2="44.8" y2="199.77" stroke="#1a1a1a" stroke-width="1"/>
<text x="40.6" y="203.27" text-anchor="end" class="tk">6</text>
<line x1="42" y1="187.95" x2="44.8" y2="187.95" stroke="#1a1a1a" stroke-width="1"/>
<text x="40.6" y="191.45" text-anchor="end" class="tk">8</text>
<line x1="42" y1="176.13" x2="44.8" y2="176.13" stroke="#1a1a1a" stroke-width="1"/>
<text x="40.6" y="179.63" text-anchor="end" class="tk">10</text>
<line x1="42" y1="164.32" x2="44.8" y2="164.32" stroke="#1a1a1a" stroke-width="1"/>
<text x="40.6" y="167.82" text-anchor="end" class="tk">12</text>
<line x1="42" y1="152.5" x2="44.8" y2="152.5" stroke="#1a1a1a" stroke-width="1"/>
<text x="40.6" y="156" text-anchor="end" class="tk">14</text>
<line x1="59.25" y1="229.35" x2="59.25" y2="232.65" stroke="#1a1a1a" stroke-width="1"/>
<text x="59.25" y="241.55" text-anchor="middle" class="tk">3</text>
<line x1="88.15" y1="229.35" x2="88.15" y2="232.65" stroke="#1a1a1a" stroke-width="1"/>
<text x="88.15" y="241.55" text-anchor="middle" class="tk">4</text>
<line x1="116.9" y1="229.35" x2="116.9" y2="232.65" stroke="#1a1a1a" stroke-width="1"/>
<text x="116.9" y="241.55" text-anchor="middle" class="tk">5</text>
<line x1="145.5" y1="229.35" x2="145.5" y2="232.65" stroke="#1a1a1a" stroke-width="1"/>
<text x="145.5" y="241.55" text-anchor="middle" class="tk">6</text>
<text transform="translate(26.5 191.23) rotate(-90)" text-anchor="middle" class="yt">Log<tspan font-size="5" dy="1.6">2</tspan><tspan dy="-1.6"> HAI</tspan></text>
<rect x="200.75" y="196.61" width="7" height="32.79" fill="#c3c3e9" stroke="#3d4895" stroke-width="1"/>
<line x1="204.25" y1="180.63" x2="204.25" y2="196.61" stroke="#3d4895" stroke-width="0.7"/>
<line x1="202.35" y1="180.63" x2="206.15" y2="180.63" stroke="#3d4895" stroke-width="0.9"/>
<line x1="204.25" y1="196.61" x2="204.25" y2="212.01" stroke="#3d4895" stroke-width="0.7"/>
<line x1="202.35" y1="212.01" x2="206.15" y2="212.01" stroke="#3d4895" stroke-width="0.9"/>
<rect x="229.3" y="189.51" width="7" height="39.89" fill="#c3c3e9" stroke="#3d4895" stroke-width="1"/>
<line x1="232.8" y1="187.73" x2="232.8" y2="189.51" stroke="#3d4895" stroke-width="0.7"/>
<line x1="230.9" y1="187.73" x2="234.7" y2="187.73" stroke="#3d4895" stroke-width="0.9"/>
<rect x="258.5" y="191.58" width="7" height="37.82" fill="#c3c3e9" stroke="#3d4895" stroke-width="1"/>
<line x1="262" y1="184.77" x2="262" y2="191.58" stroke="#3d4895" stroke-width="0.7"/>
<line x1="260.1" y1="184.77" x2="263.9" y2="184.77" stroke="#3d4895" stroke-width="0.9"/>
<rect x="287.2" y="194.25" width="7" height="35.15" fill="#c3c3e9" stroke="#3d4895" stroke-width="1"/>
<line x1="290.7" y1="183" x2="290.7" y2="194.25" stroke="#3d4895" stroke-width="0.7"/>
<line x1="288.8" y1="183" x2="292.6" y2="183" stroke="#3d4895" stroke-width="0.9"/>
<rect x="298.2" y="216.75" width="7" height="12.66" fill="#2b5aa8" stroke="#233f8a" stroke-width="1"/>
<line x1="301.7" y1="210.82" x2="301.7" y2="216.75" stroke="#233f8a" stroke-width="0.7"/>
<line x1="299.8" y1="210.82" x2="303.6" y2="210.82" stroke="#233f8a" stroke-width="0.9"/>
<line x1="197.6" y1="223.85" x2="310.5" y2="223.85" stroke="#000" stroke-width="1.2" stroke-dasharray="1.3 1.9"/>
<clipPath id="cld"><rect x="195.4" y="0" width="127.6" height="229.4"/></clipPath>
<g clip-path="url(#cld)">
<path d="M204.25 180.3L206.25 183.9L202.25 183.9Z" fill="#fff" fill-opacity="0.75" stroke="#2e3a87" stroke-width="0.9"/>
<path d="M204.25 186.22L206.25 189.82L202.25 189.82Z" fill="#fff" fill-opacity="0.75" stroke="#2e3a87" stroke-width="0.9"/>
<path d="M204.25 192.15L206.25 195.75L202.25 195.75Z" fill="#fff" fill-opacity="0.75" stroke="#2e3a87" stroke-width="0.9"/>
<path d="M204.25 215.83L206.25 219.43L202.25 219.43Z" fill="#fff" fill-opacity="0.75" stroke="#2e3a87" stroke-width="0.9"/>
<ellipse cx="213.85" cy="229.4" rx="1.6" ry="1.4" fill="#2e3a87"/>
<ellipse cx="215.25" cy="229.4" rx="1.6" ry="1.4" fill="#2e3a87"/>
<ellipse cx="216.65" cy="229.4" rx="1.6" ry="1.4" fill="#2e3a87"/>
<path d="M232.8 186.22L234.8 189.82L230.8 189.82Z" fill="#fff" fill-opacity="0.75" stroke="#2e3a87" stroke-width="0.9"/>
<path d="M231.3 186.22L233.3 189.82L229.3 189.82Z" fill="#fff" fill-opacity="0.75" stroke="#2e3a87" stroke-width="0.9"/>
<path d="M234.3 186.22L236.3 189.82L232.3 189.82Z" fill="#fff" fill-opacity="0.75" stroke="#2e3a87" stroke-width="0.9"/>
<path d="M232.8 192.15L234.8 195.75L230.8 195.75Z" fill="#fff" fill-opacity="0.75" stroke="#2e3a87" stroke-width="0.9"/>
<ellipse cx="242.4" cy="229.4" rx="1.6" ry="1.4" fill="#2e3a87"/>
<ellipse cx="243.8" cy="229.4" rx="1.6" ry="1.4" fill="#2e3a87"/>
<ellipse cx="245.2" cy="229.4" rx="1.6" ry="1.4" fill="#2e3a87"/>
<path d="M262 180.3L264 183.9L260 183.9Z" fill="#fff" fill-opacity="0.75" stroke="#2e3a87" stroke-width="0.9"/>
<path d="M262 186.22L264 189.82L260 189.82Z" fill="#fff" fill-opacity="0.75" stroke="#2e3a87" stroke-width="0.9"/>
<path d="M262 192.15L264 195.75L260 195.75Z" fill="#fff" fill-opacity="0.75" stroke="#2e3a87" stroke-width="0.9"/>
<path d="M262 195.11L264 198.71L260 198.71Z" fill="#fff" fill-opacity="0.75" stroke="#2e3a87" stroke-width="0.9"/>
<ellipse cx="271.6" cy="229.4" rx="1.6" ry="1.4" fill="#2e3a87"/>
<ellipse cx="273" cy="229.4" rx="1.6" ry="1.4" fill="#2e3a87"/>
<ellipse cx="274.4" cy="229.4" rx="1.6" ry="1.4" fill="#2e3a87"/>
<path d="M290.7 180.3L292.7 183.9L288.7 183.9Z" fill="#fff" fill-opacity="0.75" stroke="#2e3a87" stroke-width="0.9"/>
<path d="M290.7 192.15L292.7 195.75L288.7 195.75Z" fill="#fff" fill-opacity="0.75" stroke="#2e3a87" stroke-width="0.9"/>
<path d="M292.2 192.15L294.2 195.75L290.2 195.75Z" fill="#fff" fill-opacity="0.75" stroke="#2e3a87" stroke-width="0.9"/>
<path d="M290.7 198.07L292.7 201.67L288.7 201.67Z" fill="#fff" fill-opacity="0.75" stroke="#2e3a87" stroke-width="0.9"/>
<rect x="300.25" y="207.6" width="2.9" height="2.9" fill="#fff" stroke="#2e3a87" stroke-width="0.9"/>
<rect x="300.25" y="216.48" width="2.9" height="2.9" fill="#fff" stroke="#2e3a87" stroke-width="0.9"/>
<rect x="299.55" y="222.4" width="2.9" height="2.9" fill="#fff" stroke="#2e3a87" stroke-width="0.9"/>
<rect x="300.95" y="222.4" width="2.9" height="2.9" fill="#fff" stroke="#2e3a87" stroke-width="0.9"/>
</g>
<path d="M195.4 152.3V229.4H313" fill="none" stroke="#1a1a1a" stroke-width="1"/>
<line x1="192.6" y1="223.85" x2="195.4" y2="223.85" stroke="#1a1a1a" stroke-width="1"/>
<text x="191.2" y="227.35" text-anchor="end" class="tk">2</text>
<line x1="192.6" y1="212.01" x2="195.4" y2="212.01" stroke="#1a1a1a" stroke-width="1"/>
<text x="191.2" y="215.51" text-anchor="end" class="tk">4</text>
<line x1="192.6" y1="200.17" x2="195.4" y2="200.17" stroke="#1a1a1a" stroke-width="1"/>
<text x="191.2" y="203.67" text-anchor="end" class="tk">6</text>
<line x1="192.6" y1="188.32" x2="195.4" y2="188.32" stroke="#1a1a1a" stroke-width="1"/>
<text x="191.2" y="191.82" text-anchor="end" class="tk">8</text>
<line x1="192.6" y1="176.48" x2="195.4" y2="176.48" stroke="#1a1a1a" stroke-width="1"/>
<text x="191.2" y="179.98" text-anchor="end" class="tk">10</text>
<line x1="192.6" y1="164.64" x2="195.4" y2="164.64" stroke="#1a1a1a" stroke-width="1"/>
<text x="191.2" y="168.14" text-anchor="end" class="tk">12</text>
<line x1="192.6" y1="152.8" x2="195.4" y2="152.8" stroke="#1a1a1a" stroke-width="1"/>
<text x="191.2" y="156.3" text-anchor="end" class="tk">14</text>
<line x1="209.75" y1="229.4" x2="209.75" y2="232.7" stroke="#1a1a1a" stroke-width="1"/>
<text x="209.75" y="241.6" text-anchor="middle" class="tk">3</text>
<line x1="238.3" y1="229.4" x2="238.3" y2="232.7" stroke="#1a1a1a" stroke-width="1"/>
<text x="238.3" y="241.6" text-anchor="middle" class="tk">4</text>
<line x1="267.5" y1="229.4" x2="267.5" y2="232.7" stroke="#1a1a1a" stroke-width="1"/>
<text x="267.5" y="241.6" text-anchor="middle" class="tk">5</text>
<line x1="296.2" y1="229.4" x2="296.2" y2="232.7" stroke="#1a1a1a" stroke-width="1"/>
<text x="296.2" y="241.6" text-anchor="middle" class="tk">6</text>
<line x1="203.9" y1="156.4" x2="212.2" y2="156.4" stroke="#3a4fa6" stroke-width="1"/>
<text x="208.05" y="157.3" text-anchor="middle" class="st" fill="#3a4fa6">*</text>
<line x1="230.7" y1="156.4" x2="239.6" y2="156.4" stroke="#3a4fa6" stroke-width="1"/>
<text x="235.15" y="157.3" text-anchor="middle" class="st" fill="#3a4fa6">**</text>
<line x1="260.4" y1="156.4" x2="268.7" y2="156.4" stroke="#3a4fa6" stroke-width="1"/>
<text x="264.55" y="157.3" text-anchor="middle" class="st" fill="#3a4fa6">**</text>
<text transform="translate(177.1 191.4) rotate(-90)" text-anchor="middle" class="yt">Log<tspan font-size="5" dy="1.6">2</tspan><tspan dy="-1.6"> HAI</tspan></text>
<rect x="364.6" y="187.3" width="7" height="42.1" fill="#c3c3e9" stroke="#3d4895" stroke-width="1"/>
<line x1="368.1" y1="176.53" x2="368.1" y2="187.3" stroke="#3d4895" stroke-width="0.7"/>
<line x1="366.2" y1="176.53" x2="370" y2="176.53" stroke="#3d4895" stroke-width="0.9"/>
<rect x="375.6" y="202.86" width="7" height="26.54" fill="#2b5aa8" stroke="#233f8a" stroke-width="1"/>
<line x1="379.1" y1="183.71" x2="379.1" y2="202.86" stroke="#233f8a" stroke-width="0.7"/>
<line x1="377.2" y1="183.71" x2="381" y2="183.71" stroke="#233f8a" stroke-width="0.9"/>
<line x1="379.1" y1="202.86" x2="379.1" y2="221.41" stroke="#233f8a" stroke-width="0.7"/>
<line x1="377.2" y1="221.41" x2="381" y2="221.41" stroke="#233f8a" stroke-width="0.9"/>
<rect x="394.1" y="187.3" width="7" height="42.1" fill="#c3c3e9" stroke="#3d4895" stroke-width="1"/>
<line x1="397.6" y1="182.52" x2="397.6" y2="187.3" stroke="#3d4895" stroke-width="0.7"/>
<line x1="395.7" y1="182.52" x2="399.5" y2="182.52" stroke="#3d4895" stroke-width="0.9"/>
<rect x="405.1" y="198.67" width="7" height="30.73" fill="#2b5aa8" stroke="#233f8a" stroke-width="1"/>
<line x1="408.6" y1="189.1" x2="408.6" y2="198.67" stroke="#233f8a" stroke-width="0.7"/>
<line x1="406.7" y1="189.1" x2="410.5" y2="189.1" stroke="#233f8a" stroke-width="0.9"/>
<rect x="423.65" y="185.81" width="7" height="43.59" fill="#c3c3e9" stroke="#3d4895" stroke-width="1"/>
<line x1="427.15" y1="183.71" x2="427.15" y2="185.81" stroke="#3d4895" stroke-width="0.7"/>
<line x1="425.25" y1="183.71" x2="429.05" y2="183.71" stroke="#3d4895" stroke-width="0.9"/>
<rect x="434.65" y="187.3" width="7" height="42.1" fill="#2b5aa8" stroke="#233f8a" stroke-width="1"/>
<line x1="438.15" y1="179.53" x2="438.15" y2="187.3" stroke="#233f8a" stroke-width="0.7"/>
<line x1="436.25" y1="179.53" x2="440.05" y2="179.53" stroke="#233f8a" stroke-width="0.9"/>
<rect x="453" y="184.31" width="7" height="45.09" fill="#c3c3e9" stroke="#3d4895" stroke-width="1"/>
<line x1="456.5" y1="180.72" x2="456.5" y2="184.31" stroke="#3d4895" stroke-width="0.7"/>
<line x1="454.6" y1="180.72" x2="458.4" y2="180.72" stroke="#3d4895" stroke-width="0.9"/>
<rect x="464" y="193.29" width="7" height="36.11" fill="#2b5aa8" stroke="#233f8a" stroke-width="1"/>
<line x1="467.5" y1="189.1" x2="467.5" y2="193.29" stroke="#233f8a" stroke-width="0.7"/>
<line x1="465.6" y1="189.1" x2="469.4" y2="189.1" stroke="#233f8a" stroke-width="0.9"/>
<line x1="361" y1="218.3" x2="476.5" y2="218.3" stroke="#000" stroke-width="1.2" stroke-dasharray="1.3 1.9"/>
<clipPath id="clk"><rect x="358.8" y="0" width="130.2" height="229.4"/></clipPath>
<g clip-path="url(#clk)">
<path d="M368.1 172.64L370.1 176.24L366.1 176.24Z" fill="#fff" fill-opacity="0.75" stroke="#2e3a87" stroke-width="0.9"/>
<path d="M366.6 184.6L368.6 188.2L364.6 188.2Z" fill="#fff" fill-opacity="0.75" stroke="#2e3a87" stroke-width="0.9"/>
<path d="M369.6 186.4L371.6 190L367.6 190Z" fill="#fff" fill-opacity="0.75" stroke="#2e3a87" stroke-width="0.9"/>
<path d="M368.1 195.38L370.1 198.97L366.1 198.97Z" fill="#fff" fill-opacity="0.75" stroke="#2e3a87" stroke-width="0.9"/>
<rect x="376.45" y="184.06" width="2.9" height="2.9" fill="#fff" stroke="#2e3a87" stroke-width="0.9"/>
<rect x="378.85" y="184.06" width="2.9" height="2.9" fill="#fff" stroke="#2e3a87" stroke-width="0.9"/>
<rect x="377.65" y="213.98" width="2.9" height="2.9" fill="#fff" stroke="#2e3a87" stroke-width="0.9"/>
<rect x="379.15" y="216.97" width="2.9" height="2.9" fill="#fff" stroke="#2e3a87" stroke-width="0.9"/>
<path d="M396.1 180.42L398.1 184.02L394.1 184.02Z" fill="#fff" fill-opacity="0.75" stroke="#2e3a87" stroke-width="0.9"/>
<path d="M399.1 180.42L401.1 184.02L397.1 184.02Z" fill="#fff" fill-opacity="0.75" stroke="#2e3a87" stroke-width="0.9"/>
<path d="M397.6 186.4L399.6 190L395.6 190Z" fill="#fff" fill-opacity="0.75" stroke="#2e3a87" stroke-width="0.9"/>
<path d="M397.6 189.39L399.6 192.99L395.6 192.99Z" fill="#fff" fill-opacity="0.75" stroke="#2e3a87" stroke-width="0.9"/>
<rect x="407.15" y="181.07" width="2.9" height="2.9" fill="#fff" stroke="#2e3a87" stroke-width="0.9"/>
<rect x="407.15" y="193.03" width="2.9" height="2.9" fill="#fff" stroke="#2e3a87" stroke-width="0.9"/>
<rect x="407.15" y="202.01" width="2.9" height="2.9" fill="#fff" stroke="#2e3a87" stroke-width="0.9"/>
<rect x="407.15" y="205" width="2.9" height="2.9" fill="#fff" stroke="#2e3a87" stroke-width="0.9"/>
<path d="M427.15 180.42L429.15 184.02L425.15 184.02Z" fill="#fff" fill-opacity="0.75" stroke="#2e3a87" stroke-width="0.9"/>
<path d="M426.45 183.41L428.45 187.01L424.45 187.01Z" fill="#fff" fill-opacity="0.75" stroke="#2e3a87" stroke-width="0.9"/>
<path d="M427.85 183.41L429.85 187.01L425.85 187.01Z" fill="#fff" fill-opacity="0.75" stroke="#2e3a87" stroke-width="0.9"/>
<path d="M427.15 186.4L429.15 190L425.15 190Z" fill="#fff" fill-opacity="0.75" stroke="#2e3a87" stroke-width="0.9"/>
<rect x="436.7" y="175.08" width="2.9" height="2.9" fill="#fff" stroke="#2e3a87" stroke-width="0.9"/>
<rect x="436.7" y="184.06" width="2.9" height="2.9" fill="#fff" stroke="#2e3a87" stroke-width="0.9"/>
<rect x="435.5" y="190.04" width="2.9" height="2.9" fill="#fff" stroke="#2e3a87" stroke-width="0.9"/>
<rect x="437.9" y="190.04" width="2.9" height="2.9" fill="#fff" stroke="#2e3a87" stroke-width="0.9"/>
<path d="M456.5 177.43L458.5 181.03L454.5 181.03Z" fill="#fff" fill-opacity="0.75" stroke="#2e3a87" stroke-width="0.9"/>
<path d="M456.5 180.42L458.5 184.02L454.5 184.02Z" fill="#fff" fill-opacity="0.75" stroke="#2e3a87" stroke-width="0.9"/>
<path d="M456.5 186.4L458.5 190L454.5 190Z" fill="#fff" fill-opacity="0.75" stroke="#2e3a87" stroke-width="0.9"/>
<path d="M456.5 189.39L458.5 192.99L454.5 192.99Z" fill="#fff" fill-opacity="0.75" stroke="#2e3a87" stroke-width="0.9"/>
<rect x="464.85" y="187.05" width="2.9" height="2.9" fill="#fff" stroke="#2e3a87" stroke-width="0.9"/>
<rect x="467.25" y="187.05" width="2.9" height="2.9" fill="#fff" stroke="#2e3a87" stroke-width="0.9"/>
<rect x="466.05" y="193.03" width="2.9" height="2.9" fill="#fff" stroke="#2e3a87" stroke-width="0.9"/>
<rect x="466.05" y="196.03" width="2.9" height="2.9" fill="#fff" stroke="#2e3a87" stroke-width="0.9"/>
</g>
<path d="M358.8 152.1V229.4H479" fill="none" stroke="#1a1a1a" stroke-width="1"/>
<line x1="356" y1="224.4" x2="358.8" y2="224.4" stroke="#1a1a1a" stroke-width="1"/>
<text x="354.6" y="227.9" text-anchor="end" class="tk">2</text>
<line x1="356" y1="212.43" x2="358.8" y2="212.43" stroke="#1a1a1a" stroke-width="1"/>
<text x="354.6" y="215.93" text-anchor="end" class="tk">4</text>
<line x1="356" y1="200.47" x2="358.8" y2="200.47" stroke="#1a1a1a" stroke-width="1"/>
<text x="354.6" y="203.97" text-anchor="end" class="tk">6</text>
<line x1="356" y1="188.5" x2="358.8" y2="188.5" stroke="#1a1a1a" stroke-width="1"/>
<text x="354.6" y="192" text-anchor="end" class="tk">8</text>
<line x1="356" y1="176.53" x2="358.8" y2="176.53" stroke="#1a1a1a" stroke-width="1"/>
<text x="354.6" y="180.03" text-anchor="end" class="tk">10</text>
<line x1="356" y1="164.57" x2="358.8" y2="164.57" stroke="#1a1a1a" stroke-width="1"/>
<text x="354.6" y="168.07" text-anchor="end" class="tk">12</text>
<line x1="356" y1="152.6" x2="358.8" y2="152.6" stroke="#1a1a1a" stroke-width="1"/>
<text x="354.6" y="156.1" text-anchor="end" class="tk">14</text>
<line x1="373.6" y1="229.4" x2="373.6" y2="232.7" stroke="#1a1a1a" stroke-width="1"/>
<text x="373.6" y="241.6" text-anchor="middle" class="tk">3</text>
<line x1="403.1" y1="229.4" x2="403.1" y2="232.7" stroke="#1a1a1a" stroke-width="1"/>
<text x="403.1" y="241.6" text-anchor="middle" class="tk">4</text>
<line x1="432.65" y1="229.4" x2="432.65" y2="232.7" stroke="#1a1a1a" stroke-width="1"/>
<text x="432.65" y="241.6" text-anchor="middle" class="tk">5</text>
<line x1="462" y1="229.4" x2="462" y2="232.7" stroke="#1a1a1a" stroke-width="1"/>
<text x="462" y="241.6" text-anchor="middle" class="tk">6</text>
<text transform="translate(340.5 190.4) rotate(-90)" text-anchor="middle" class="yt">Log<tspan font-size="5" dy="1.6">2</tspan><tspan dy="-1.6"> MN</tspan></text>
<rect x="516.45" y="196.88" width="7" height="32.52" fill="#c3c3e9" stroke="#3d4895" stroke-width="1"/>
<line x1="519.95" y1="177.13" x2="519.95" y2="196.88" stroke="#3d4895" stroke-width="0.7"/>
<line x1="518.05" y1="177.13" x2="521.85" y2="177.13" stroke="#3d4895" stroke-width="0.9"/>
<line x1="519.95" y1="196.88" x2="519.95" y2="216.62" stroke="#3d4895" stroke-width="0.7"/>
<line x1="518.05" y1="216.62" x2="521.85" y2="216.62" stroke="#3d4895" stroke-width="0.9"/>
<rect x="527.45" y="223.2" width="7" height="6.2" fill="#2b5aa8" stroke="#233f8a" stroke-width="1"/>
<rect x="545.55" y="190.89" width="7" height="38.51" fill="#c3c3e9" stroke="#3d4895" stroke-width="1"/>
<line x1="549.05" y1="186.7" x2="549.05" y2="190.89" stroke="#3d4895" stroke-width="0.7"/>
<line x1="547.15" y1="186.7" x2="550.95" y2="186.7" stroke="#3d4895" stroke-width="0.9"/>
<rect x="556.55" y="223.2" width="7" height="6.2" fill="#2b5aa8" stroke="#233f8a" stroke-width="1"/>
<rect x="575.1" y="190.89" width="7" height="38.51" fill="#c3c3e9" stroke="#3d4895" stroke-width="1"/>
<line x1="578.6" y1="179.53" x2="578.6" y2="190.89" stroke="#3d4895" stroke-width="0.7"/>
<line x1="576.7" y1="179.53" x2="580.5" y2="179.53" stroke="#3d4895" stroke-width="0.9"/>
<line x1="578.6" y1="190.89" x2="578.6" y2="202.26" stroke="#3d4895" stroke-width="0.7"/>
<line x1="576.7" y1="202.26" x2="580.5" y2="202.26" stroke="#3d4895" stroke-width="0.9"/>
<rect x="586.1" y="223.2" width="7" height="6.2" fill="#2b5aa8" stroke="#233f8a" stroke-width="1"/>
<rect x="604.45" y="193.29" width="7" height="36.11" fill="#c3c3e9" stroke="#3d4895" stroke-width="1"/>
<line x1="607.95" y1="183.12" x2="607.95" y2="193.29" stroke="#3d4895" stroke-width="0.7"/>
<line x1="606.05" y1="183.12" x2="609.85" y2="183.12" stroke="#3d4895" stroke-width="0.9"/>
<rect x="615.45" y="223.2" width="7" height="6.2" fill="#2b5aa8" stroke="#233f8a" stroke-width="1"/>
<line x1="513.2" y1="218.3" x2="626" y2="218.3" stroke="#000" stroke-width="1.2" stroke-dasharray="1.3 1.9"/>
<clipPath id="cll"><rect x="511" y="0" width="127.5" height="229.4"/></clipPath>
<g clip-path="url(#cll)">
<path d="M518.45 180.42L520.45 184.02L516.45 184.02Z" fill="#fff" fill-opacity="0.75" stroke="#2e3a87" stroke-width="0.9"/>
<path d="M519.95 183.41L521.95 187.01L517.95 187.01Z" fill="#fff" fill-opacity="0.75" stroke="#2e3a87" stroke-width="0.9"/>
<path d="M519.95 189.39L521.95 192.99L517.95 192.99Z" fill="#fff" fill-opacity="0.75" stroke="#2e3a87" stroke-width="0.9"/>
<path d="M519.95 222.3L521.95 225.9L517.95 225.9Z" fill="#fff" fill-opacity="0.75" stroke="#2e3a87" stroke-width="0.9"/>
<rect x="528.1" y="222.95" width="2.9" height="2.9" fill="#fff" stroke="#2e3a87" stroke-width="0.9"/>
<rect x="529.5" y="222.95" width="2.9" height="2.9" fill="#fff" stroke="#2e3a87" stroke-width="0.9"/>
<rect x="530.9" y="222.95" width="2.9" height="2.9" fill="#fff" stroke="#2e3a87" stroke-width="0.9"/>
<path d="M549.05 180.42L551.05 184.02L547.05 184.02Z" fill="#fff" fill-opacity="0.75" stroke="#2e3a87" stroke-width="0.9"/>
<path d="M549.05 186.4L551.05 190L547.05 190Z" fill="#fff" fill-opacity="0.75" stroke="#2e3a87" stroke-width="0.9"/>
<path d="M547.55 192.38L549.55 195.98L545.55 195.98Z" fill="#fff" fill-opacity="0.75" stroke="#2e3a87" stroke-width="0.9"/>
<path d="M550.55 192.38L552.55 195.98L548.55 195.98Z" fill="#fff" fill-opacity="0.75" stroke="#2e3a87" stroke-width="0.9"/>
<rect x="557.2" y="222.95" width="2.9" height="2.9" fill="#fff" stroke="#2e3a87" stroke-width="0.9"/>
<rect x="558.6" y="222.95" width="2.9" height="2.9" fill="#fff" stroke="#2e3a87" stroke-width="0.9"/>
<rect x="560" y="222.95" width="2.9" height="2.9" fill="#fff" stroke="#2e3a87" stroke-width="0.9"/>
<path d="M577.8 177.43L579.8 181.03L575.8 181.03Z" fill="#fff" fill-opacity="0.75" stroke="#2e3a87" stroke-width="0.9"/>
<path d="M579.4 178.02L581.4 181.62L577.4 181.62Z" fill="#fff" fill-opacity="0.75" stroke="#2e3a87" stroke-width="0.9"/>
<path d="M578.6 183.41L580.6 187.01L576.6 187.01Z" fill="#fff" fill-opacity="0.75" stroke="#2e3a87" stroke-width="0.9"/>
<path d="M578.6 204.35L580.6 207.95L576.6 207.95Z" fill="#fff" fill-opacity="0.75" stroke="#2e3a87" stroke-width="0.9"/>
<rect x="586.75" y="222.95" width="2.9" height="2.9" fill="#fff" stroke="#2e3a87" stroke-width="0.9"/>
<rect x="588.15" y="222.95" width="2.9" height="2.9" fill="#fff" stroke="#2e3a87" stroke-width="0.9"/>
<rect x="589.55" y="222.95" width="2.9" height="2.9" fill="#fff" stroke="#2e3a87" stroke-width="0.9"/>
<path d="M607.95 180.42L609.95 184.02L605.95 184.02Z" fill="#fff" fill-opacity="0.75" stroke="#2e3a87" stroke-width="0.9"/>
<path d="M606.45 189.39L608.45 192.99L604.45 192.99Z" fill="#fff" fill-opacity="0.75" stroke="#2e3a87" stroke-width="0.9"/>
<path d="M609.45 189.39L611.45 192.99L607.45 192.99Z" fill="#fff" fill-opacity="0.75" stroke="#2e3a87" stroke-width="0.9"/>
<path d="M607.95 198.37L609.95 201.97L605.95 201.97Z" fill="#fff" fill-opacity="0.75" stroke="#2e3a87" stroke-width="0.9"/>
<rect x="616.1" y="222.95" width="2.9" height="2.9" fill="#fff" stroke="#2e3a87" stroke-width="0.9"/>
<rect x="617.5" y="222.95" width="2.9" height="2.9" fill="#fff" stroke="#2e3a87" stroke-width="0.9"/>
<rect x="618.9" y="222.95" width="2.9" height="2.9" fill="#fff" stroke="#2e3a87" stroke-width="0.9"/>
</g>
<path d="M511 152.1V229.4H628.5" fill="none" stroke="#1a1a1a" stroke-width="1"/>
<line x1="508.2" y1="224.4" x2="511" y2="224.4" stroke="#1a1a1a" stroke-width="1"/>
<text x="506.8" y="227.9" text-anchor="end" class="tk">2</text>
<line x1="508.2" y1="212.43" x2="511" y2="212.43" stroke="#1a1a1a" stroke-width="1"/>
<text x="506.8" y="215.93" text-anchor="end" class="tk">4</text>
<line x1="508.2" y1="200.47" x2="511" y2="200.47" stroke="#1a1a1a" stroke-width="1"/>
<text x="506.8" y="203.97" text-anchor="end" class="tk">6</text>
<line x1="508.2" y1="188.5" x2="511" y2="188.5" stroke="#1a1a1a" stroke-width="1"/>
<text x="506.8" y="192" text-anchor="end" class="tk">8</text>
<line x1="508.2" y1="176.53" x2="511" y2="176.53" stroke="#1a1a1a" stroke-width="1"/>
<text x="506.8" y="180.03" text-anchor="end" class="tk">10</text>
<line x1="508.2" y1="164.57" x2="511" y2="164.57" stroke="#1a1a1a" stroke-width="1"/>
<text x="506.8" y="168.07" text-anchor="end" class="tk">12</text>
<line x1="508.2" y1="152.6" x2="511" y2="152.6" stroke="#1a1a1a" stroke-width="1"/>
<text x="506.8" y="156.1" text-anchor="end" class="tk">14</text>
<line x1="525.45" y1="229.4" x2="525.45" y2="232.7" stroke="#1a1a1a" stroke-width="1"/>
<text x="525.45" y="241.6" text-anchor="middle" class="tk">3</text>
<line x1="554.55" y1="229.4" x2="554.55" y2="232.7" stroke="#1a1a1a" stroke-width="1"/>
<text x="554.55" y="241.6" text-anchor="middle" class="tk">4</text>
<line x1="584.1" y1="229.4" x2="584.1" y2="232.7" stroke="#1a1a1a" stroke-width="1"/>
<text x="584.1" y="241.6" text-anchor="middle" class="tk">5</text>
<line x1="613.45" y1="229.4" x2="613.45" y2="232.7" stroke="#1a1a1a" stroke-width="1"/>
<text x="613.45" y="241.6" text-anchor="middle" class="tk">6</text>
<line x1="577.3" y1="152.6" x2="586" y2="152.6" stroke="#3a4fa6" stroke-width="1"/>
<text x="581.65" y="153.7" text-anchor="middle" class="st" fill="#3a4fa6">*</text>
<text transform="translate(492.7 190.4) rotate(-90)" text-anchor="middle" class="yt">Log<tspan font-size="5" dy="1.6">2</tspan><tspan dy="-1.6"> MN</tspan></text>
<rect x="50.65" y="309.09" width="7" height="22.11" fill="#ef9cc6" stroke="#c8186e" stroke-width="1"/>
<line x1="54.15" y1="297.16" x2="54.15" y2="309.09" stroke="#c8186e" stroke-width="0.7"/>
<line x1="52.25" y1="297.16" x2="56.05" y2="297.16" stroke="#c8186e" stroke-width="0.9"/>
<line x1="54.15" y1="309.09" x2="54.15" y2="319.83" stroke="#c8186e" stroke-width="0.7"/>
<line x1="52.25" y1="319.83" x2="56.05" y2="319.83" stroke="#c8186e" stroke-width="0.9"/>
<rect x="61.65" y="301.93" width="7" height="29.27" fill="#d0106c" stroke="#a80f58" stroke-width="1"/>
<line x1="65.15" y1="295.37" x2="65.15" y2="301.93" stroke="#a80f58" stroke-width="0.7"/>
<line x1="63.25" y1="295.37" x2="67.05" y2="295.37" stroke="#a80f58" stroke-width="0.9"/>
<rect x="79.85" y="295.07" width="7" height="36.13" fill="#ef9cc6" stroke="#c8186e" stroke-width="1"/>
<line x1="83.35" y1="291.79" x2="83.35" y2="295.07" stroke="#c8186e" stroke-width="0.7"/>
<line x1="81.45" y1="291.79" x2="85.25" y2="291.79" stroke="#c8186e" stroke-width="0.9"/>
<rect x="90.85" y="304.91" width="7" height="26.29" fill="#d0106c" stroke="#a80f58" stroke-width="1"/>
<line x1="94.35" y1="297.75" x2="94.35" y2="304.91" stroke="#a80f58" stroke-width="0.7"/>
<line x1="92.45" y1="297.75" x2="96.25" y2="297.75" stroke="#a80f58" stroke-width="0.9"/>
<rect x="109.15" y="295.66" width="7" height="35.54" fill="#ef9cc6" stroke="#c8186e" stroke-width="1"/>
<line x1="112.65" y1="294.17" x2="112.65" y2="295.66" stroke="#c8186e" stroke-width="0.7"/>
<line x1="110.75" y1="294.17" x2="114.55" y2="294.17" stroke="#c8186e" stroke-width="0.9"/>
<rect x="120.15" y="299.96" width="7" height="31.24" fill="#d0106c" stroke="#a80f58" stroke-width="1"/>
<line x1="123.65" y1="295.37" x2="123.65" y2="299.96" stroke="#a80f58" stroke-width="0.7"/>
<line x1="121.75" y1="295.37" x2="125.55" y2="295.37" stroke="#a80f58" stroke-width="0.9"/>
<rect x="138" y="296.56" width="7" height="34.64" fill="#ef9cc6" stroke="#c8186e" stroke-width="1"/>
<line x1="141.5" y1="290" x2="141.5" y2="296.56" stroke="#c8186e" stroke-width="0.7"/>
<line x1="139.6" y1="290" x2="143.4" y2="290" stroke="#c8186e" stroke-width="0.9"/>
<rect x="149" y="298.35" width="7" height="32.85" fill="#d0106c" stroke="#a80f58" stroke-width="1"/>
<line x1="152.5" y1="294.77" x2="152.5" y2="298.35" stroke="#a80f58" stroke-width="0.7"/>
<line x1="150.6" y1="294.77" x2="154.4" y2="294.77" stroke="#a80f58" stroke-width="0.9"/>
<line x1="47" y1="325.2" x2="159.5" y2="325.2" stroke="#000" stroke-width="1.2" stroke-dasharray="1.3 1.9"/>
<clipPath id="cle"><rect x="44.8" y="0" width="127.2" height="331.2"/></clipPath>
<g clip-path="url(#cle)">
<path d="M52.65 299.23L54.65 302.83L50.65 302.83Z" fill="#fff" fill-opacity="0.75" stroke="#c0136b" stroke-width="0.9"/>
<path d="M55.65 299.23L57.65 302.83L53.65 302.83Z" fill="#fff" fill-opacity="0.75" stroke="#c0136b" stroke-width="0.9"/>
<path d="M54.15 305.2L56.15 308.8L52.15 308.8Z" fill="#fff" fill-opacity="0.75" stroke="#c0136b" stroke-width="0.9"/>
<path d="M54.15 323.1L56.15 326.7L52.15 326.7Z" fill="#fff" fill-opacity="0.75" stroke="#c0136b" stroke-width="0.9"/>
<rect x="62.4" y="293.92" width="2.9" height="2.9" fill="#fff" stroke="#c0136b" stroke-width="0.9"/>
<rect x="65" y="293.92" width="2.9" height="2.9" fill="#fff" stroke="#c0136b" stroke-width="0.9"/>
<rect x="62.4" y="305.85" width="2.9" height="2.9" fill="#fff" stroke="#c0136b" stroke-width="0.9"/>
<rect x="65" y="305.85" width="2.9" height="2.9" fill="#fff" stroke="#c0136b" stroke-width="0.9"/>
<path d="M83.35 287.3L85.35 290.9L81.35 290.9Z" fill="#fff" fill-opacity="0.75" stroke="#c0136b" stroke-width="0.9"/>
<path d="M83.35 293.27L85.35 296.87L81.35 296.87Z" fill="#fff" fill-opacity="0.75" stroke="#c0136b" stroke-width="0.9"/>
<path d="M81.85 293.27L83.85 296.87L79.85 296.87Z" fill="#fff" fill-opacity="0.75" stroke="#c0136b" stroke-width="0.9"/>
<path d="M84.85 293.27L86.85 296.87L82.85 296.87Z" fill="#fff" fill-opacity="0.75" stroke="#c0136b" stroke-width="0.9"/>
<rect x="92.9" y="293.92" width="2.9" height="2.9" fill="#fff" stroke="#c0136b" stroke-width="0.9"/>
<rect x="91.6" y="305.85" width="2.9" height="2.9" fill="#fff" stroke="#c0136b" stroke-width="0.9"/>
<rect x="94.2" y="305.85" width="2.9" height="2.9" fill="#fff" stroke="#c0136b" stroke-width="0.9"/>
<path d="M112.65 293.27L114.65 296.87L110.65 296.87Z" fill="#fff" fill-opacity="0.75" stroke="#c0136b" stroke-width="0.9"/>
<path d="M111.35 293.27L113.35 296.87L109.35 296.87Z" fill="#fff" fill-opacity="0.75" stroke="#c0136b" stroke-width="0.9"/>
<path d="M113.95 293.27L115.95 296.87L111.95 296.87Z" fill="#fff" fill-opacity="0.75" stroke="#c0136b" stroke-width="0.9"/>
<path d="M112.65 299.23L114.65 302.83L110.65 302.83Z" fill="#fff" fill-opacity="0.75" stroke="#c0136b" stroke-width="0.9"/>
<rect x="122.2" y="293.92" width="2.9" height="2.9" fill="#fff" stroke="#c0136b" stroke-width="0.9"/>
<rect x="121.5" y="299.88" width="2.9" height="2.9" fill="#fff" stroke="#c0136b" stroke-width="0.9"/>
<rect x="122.9" y="299.88" width="2.9" height="2.9" fill="#fff" stroke="#c0136b" stroke-width="0.9"/>
<rect x="122.2" y="305.85" width="2.9" height="2.9" fill="#fff" stroke="#c0136b" stroke-width="0.9"/>
<path d="M141.5 287.3L143.5 290.9L139.5 290.9Z" fill="#fff" fill-opacity="0.75" stroke="#c0136b" stroke-width="0.9"/>
<path d="M141.5 293.27L143.5 296.87L139.5 296.87Z" fill="#fff" fill-opacity="0.75" stroke="#c0136b" stroke-width="0.9"/>
<path d="M140.8 299.23L142.8 302.83L138.8 302.83Z" fill="#fff" fill-opacity="0.75" stroke="#c0136b" stroke-width="0.9"/>
<path d="M142.2 299.23L144.2 302.83L140.2 302.83Z" fill="#fff" fill-opacity="0.75" stroke="#c0136b" stroke-width="0.9"/>
<rect x="149.75" y="293.92" width="2.9" height="2.9" fill="#fff" stroke="#c0136b" stroke-width="0.9"/>
<rect x="152.35" y="293.92" width="2.9" height="2.9" fill="#fff" stroke="#c0136b" stroke-width="0.9"/>
<rect x="149.75" y="299.88" width="2.9" height="2.9" fill="#fff" stroke="#c0136b" stroke-width="0.9"/>
<rect x="152.35" y="299.88" width="2.9" height="2.9" fill="#fff" stroke="#c0136b" stroke-width="0.9"/>
</g>
<path d="M44.8 253.1V331.2H162" fill="none" stroke="#1a1a1a" stroke-width="1"/>
<line x1="42" y1="325.2" x2="44.8" y2="325.2" stroke="#1a1a1a" stroke-width="1"/>
<text x="40.6" y="328.7" text-anchor="end" class="tk">2</text>
<line x1="42" y1="313.27" x2="44.8" y2="313.27" stroke="#1a1a1a" stroke-width="1"/>
<text x="40.6" y="316.77" text-anchor="end" class="tk">4</text>
<line x1="42" y1="301.33" x2="44.8" y2="301.33" stroke="#1a1a1a" stroke-width="1"/>
<text x="40.6" y="304.83" text-anchor="end" class="tk">6</text>
<line x1="42" y1="289.4" x2="44.8" y2="289.4" stroke="#1a1a1a" stroke-width="1"/>
<text x="40.6" y="292.9" text-anchor="end" class="tk">8</text>
<line x1="42" y1="277.47" x2="44.8" y2="277.47" stroke="#1a1a1a" stroke-width="1"/>
<text x="40.6" y="280.97" text-anchor="end" class="tk">10</text>
<line x1="42" y1="265.53" x2="44.8" y2="265.53" stroke="#1a1a1a" stroke-width="1"/>
<text x="40.6" y="269.03" text-anchor="end" class="tk">12</text>
<line x1="42" y1="253.6" x2="44.8" y2="253.6" stroke="#1a1a1a" stroke-width="1"/>
<text x="40.6" y="257.1" text-anchor="end" class="tk">14</text>
<line x1="59.65" y1="331.2" x2="59.65" y2="334.5" stroke="#1a1a1a" stroke-width="1"/>
<text x="59.65" y="343.4" text-anchor="middle" class="tk">3</text>
<line x1="88.85" y1="331.2" x2="88.85" y2="334.5" stroke="#1a1a1a" stroke-width="1"/>
<text x="88.85" y="343.4" text-anchor="middle" class="tk">4</text>
<line x1="118.15" y1="331.2" x2="118.15" y2="334.5" stroke="#1a1a1a" stroke-width="1"/>
<text x="118.15" y="343.4" text-anchor="middle" class="tk">5</text>
<line x1="147" y1="331.2" x2="147" y2="334.5" stroke="#1a1a1a" stroke-width="1"/>
<text x="147" y="343.4" text-anchor="middle" class="tk">6</text>
<line x1="81.2" y1="249.8" x2="89.8" y2="249.8" stroke="#d6237f" stroke-width="1"/>
<text x="85.5" y="251.1" text-anchor="middle" class="st" fill="#d6237f">**</text>
<text transform="translate(26.5 292.8) rotate(-90)" text-anchor="middle" class="yt">Log<tspan font-size="5" dy="1.6">2</tspan><tspan dy="-1.6"> HAI</tspan></text>
<rect x="201" y="302.67" width="7" height="28.68" fill="#ef9cc6" stroke="#c8186e" stroke-width="1"/>
<line x1="204.5" y1="297.86" x2="204.5" y2="302.67" stroke="#c8186e" stroke-width="0.7"/>
<line x1="202.6" y1="297.86" x2="206.4" y2="297.86" stroke="#c8186e" stroke-width="0.9"/>
<rect x="212" y="308.08" width="7" height="23.27" fill="#d0106c" stroke="#a80f58" stroke-width="1"/>
<line x1="215.5" y1="300.26" x2="215.5" y2="308.08" stroke="#a80f58" stroke-width="0.7"/>
<line x1="213.6" y1="300.26" x2="217.4" y2="300.26" stroke="#a80f58" stroke-width="0.9"/>
<rect x="230.1" y="297.26" width="7" height="34.09" fill="#ef9cc6" stroke="#c8186e" stroke-width="1"/>
<line x1="233.6" y1="295.46" x2="233.6" y2="297.26" stroke="#c8186e" stroke-width="0.7"/>
<line x1="231.7" y1="295.46" x2="235.5" y2="295.46" stroke="#c8186e" stroke-width="0.9"/>
<rect x="241.1" y="297.26" width="7" height="34.09" fill="#d0106c" stroke="#a80f58" stroke-width="1"/>
<line x1="244.6" y1="291.85" x2="244.6" y2="297.26" stroke="#a80f58" stroke-width="0.7"/>
<line x1="242.7" y1="291.85" x2="246.5" y2="291.85" stroke="#a80f58" stroke-width="0.9"/>
<rect x="259.25" y="293.06" width="7" height="38.3" fill="#ef9cc6" stroke="#c8186e" stroke-width="1"/>
<line x1="262.75" y1="286.45" x2="262.75" y2="293.06" stroke="#c8186e" stroke-width="0.7"/>
<line x1="260.85" y1="286.45" x2="264.65" y2="286.45" stroke="#c8186e" stroke-width="0.9"/>
<rect x="270.25" y="298.46" width="7" height="32.89" fill="#d0106c" stroke="#a80f58" stroke-width="1"/>
<line x1="273.75" y1="295.46" x2="273.75" y2="298.46" stroke="#a80f58" stroke-width="0.7"/>
<line x1="271.85" y1="295.46" x2="275.65" y2="295.46" stroke="#a80f58" stroke-width="0.9"/>
<rect x="288.6" y="298.76" width="7" height="32.59" fill="#ef9cc6" stroke="#c8186e" stroke-width="1"/>
<line x1="292.1" y1="290.65" x2="292.1" y2="298.76" stroke="#c8186e" stroke-width="0.7"/>
<line x1="290.2" y1="290.65" x2="294" y2="290.65" stroke="#c8186e" stroke-width="0.9"/>
<rect x="299.6" y="294.26" width="7" height="37.09" fill="#d0106c" stroke="#a80f58" stroke-width="1"/>
<line x1="303.1" y1="293.06" x2="303.1" y2="294.26" stroke="#a80f58" stroke-width="0.7"/>
<line x1="301.2" y1="293.06" x2="305" y2="293.06" stroke="#a80f58" stroke-width="0.9"/>
<line x1="197.6" y1="325.5" x2="310.3" y2="325.5" stroke="#000" stroke-width="1.2" stroke-dasharray="1.3 1.9"/>
<clipPath id="clf"><rect x="195.4" y="0" width="127.4" height="331.35"/></clipPath>
<g clip-path="url(#clf)">
<path d="M204.5 293.36L206.5 296.96L202.5 296.96Z" fill="#fff" fill-opacity="0.75" stroke="#c0136b" stroke-width="0.9"/>
<path d="M203 299.37L205 302.97L201 302.97Z" fill="#fff" fill-opacity="0.75" stroke="#c0136b" stroke-width="0.9"/>
<path d="M206 299.37L208 302.97L204 302.97Z" fill="#fff" fill-opacity="0.75" stroke="#c0136b" stroke-width="0.9"/>
<path d="M204.5 305.38L206.5 308.98L202.5 308.98Z" fill="#fff" fill-opacity="0.75" stroke="#c0136b" stroke-width="0.9"/>
<rect x="212.75" y="300.02" width="2.9" height="2.9" fill="#fff" stroke="#c0136b" stroke-width="0.9"/>
<rect x="215.35" y="300.02" width="2.9" height="2.9" fill="#fff" stroke="#c0136b" stroke-width="0.9"/>
<rect x="214.05" y="306.03" width="2.9" height="2.9" fill="#fff" stroke="#c0136b" stroke-width="0.9"/>
<rect x="214.05" y="318.64" width="2.9" height="2.9" fill="#fff" stroke="#c0136b" stroke-width="0.9"/>
<path d="M232.1 293.36L234.1 296.96L230.1 296.96Z" fill="#fff" fill-opacity="0.75" stroke="#c0136b" stroke-width="0.9"/>
<path d="M235.1 293.36L237.1 296.96L233.1 296.96Z" fill="#fff" fill-opacity="0.75" stroke="#c0136b" stroke-width="0.9"/>
<path d="M233.6 299.37L235.6 302.97L231.6 302.97Z" fill="#fff" fill-opacity="0.75" stroke="#c0136b" stroke-width="0.9"/>
<rect x="243.15" y="288" width="2.9" height="2.9" fill="#fff" stroke="#c0136b" stroke-width="0.9"/>
<rect x="243.15" y="294.01" width="2.9" height="2.9" fill="#fff" stroke="#c0136b" stroke-width="0.9"/>
<rect x="241.85" y="300.02" width="2.9" height="2.9" fill="#fff" stroke="#c0136b" stroke-width="0.9"/>
<rect x="244.45" y="300.02" width="2.9" height="2.9" fill="#fff" stroke="#c0136b" stroke-width="0.9"/>
<path d="M262.75 281.34L264.75 284.94L260.75 284.94Z" fill="#fff" fill-opacity="0.75" stroke="#c0136b" stroke-width="0.9"/>
<path d="M262.75 287.35L264.75 290.95L260.75 290.95Z" fill="#fff" fill-opacity="0.75" stroke="#c0136b" stroke-width="0.9"/>
<path d="M262.75 293.36L264.75 296.96L260.75 296.96Z" fill="#fff" fill-opacity="0.75" stroke="#c0136b" stroke-width="0.9"/>
<path d="M262.75 299.37L264.75 302.97L260.75 302.97Z" fill="#fff" fill-opacity="0.75" stroke="#c0136b" stroke-width="0.9"/>
<rect x="271" y="294.01" width="2.9" height="2.9" fill="#fff" stroke="#c0136b" stroke-width="0.9"/>
<rect x="273.6" y="294.01" width="2.9" height="2.9" fill="#fff" stroke="#c0136b" stroke-width="0.9"/>
<rect x="271" y="300.02" width="2.9" height="2.9" fill="#fff" stroke="#c0136b" stroke-width="0.9"/>
<rect x="273.6" y="300.02" width="2.9" height="2.9" fill="#fff" stroke="#c0136b" stroke-width="0.9"/>
<path d="M292.1 284.35L294.1 287.95L290.1 287.95Z" fill="#fff" fill-opacity="0.75" stroke="#c0136b" stroke-width="0.9"/>
<path d="M292.1 293.36L294.1 296.96L290.1 296.96Z" fill="#fff" fill-opacity="0.75" stroke="#c0136b" stroke-width="0.9"/>
<path d="M292.1 299.37L294.1 302.97L290.1 302.97Z" fill="#fff" fill-opacity="0.75" stroke="#c0136b" stroke-width="0.9"/>
<path d="M292.1 305.38L294.1 308.98L290.1 308.98Z" fill="#fff" fill-opacity="0.75" stroke="#c0136b" stroke-width="0.9"/>
<rect x="300.05" y="294.01" width="2.9" height="2.9" fill="#fff" stroke="#c0136b" stroke-width="0.9"/>
<rect x="301.65" y="294.01" width="2.9" height="2.9" fill="#fff" stroke="#c0136b" stroke-width="0.9"/>
<rect x="303.25" y="294.01" width="2.9" height="2.9" fill="#fff" stroke="#c0136b" stroke-width="0.9"/>
<rect x="301.65" y="300.02" width="2.9" height="2.9" fill="#fff" stroke="#c0136b" stroke-width="0.9"/>
</g>
<path d="M195.4 252.9V331.35H312.8" fill="none" stroke="#1a1a1a" stroke-width="1"/>
<line x1="192.6" y1="325.5" x2="195.4" y2="325.5" stroke="#1a1a1a" stroke-width="1"/>
<text x="191.2" y="329" text-anchor="end" class="tk">2</text>
<line x1="192.6" y1="313.48" x2="195.4" y2="313.48" stroke="#1a1a1a" stroke-width="1"/>
<text x="191.2" y="316.98" text-anchor="end" class="tk">4</text>
<line x1="192.6" y1="301.47" x2="195.4" y2="301.47" stroke="#1a1a1a" stroke-width="1"/>
<text x="191.2" y="304.97" text-anchor="end" class="tk">6</text>
<line x1="192.6" y1="289.45" x2="195.4" y2="289.45" stroke="#1a1a1a" stroke-width="1"/>
<text x="191.2" y="292.95" text-anchor="end" class="tk">8</text>
<line x1="192.6" y1="277.43" x2="195.4" y2="277.43" stroke="#1a1a1a" stroke-width="1"/>
<text x="191.2" y="280.93" text-anchor="end" class="tk">10</text>
<line x1="192.6" y1="265.42" x2="195.4" y2="265.42" stroke="#1a1a1a" stroke-width="1"/>
<text x="191.2" y="268.92" text-anchor="end" class="tk">12</text>
<line x1="192.6" y1="253.4" x2="195.4" y2="253.4" stroke="#1a1a1a" stroke-width="1"/>
<text x="191.2" y="256.9" text-anchor="end" class="tk">14</text>
<line x1="210" y1="331.35" x2="210" y2="334.65" stroke="#1a1a1a" stroke-width="1"/>
<text x="210" y="343.55" text-anchor="middle" class="tk">3</text>
<line x1="239.1" y1="331.35" x2="239.1" y2="334.65" stroke="#1a1a1a" stroke-width="1"/>
<text x="239.1" y="343.55" text-anchor="middle" class="tk">4</text>
<line x1="268.25" y1="331.35" x2="268.25" y2="334.65" stroke="#1a1a1a" stroke-width="1"/>
<text x="268.25" y="343.55" text-anchor="middle" class="tk">5</text>
<line x1="297.6" y1="331.35" x2="297.6" y2="334.65" stroke="#1a1a1a" stroke-width="1"/>
<text x="297.6" y="343.55" text-anchor="middle" class="tk">6</text>
<text transform="translate(177.1 292.77) rotate(-90)" text-anchor="middle" class="yt">Log<tspan font-size="5" dy="1.6">2</tspan><tspan dy="-1.6"> HAI</tspan></text>
<rect x="364.5" y="299.66" width="7" height="31.69" fill="#ef9cc6" stroke="#c8186e" stroke-width="1"/>
<line x1="368" y1="281.04" x2="368" y2="299.66" stroke="#c8186e" stroke-width="0.7"/>
<line x1="366.1" y1="281.04" x2="369.9" y2="281.04" stroke="#c8186e" stroke-width="0.9"/>
<line x1="368" y1="299.66" x2="368" y2="316.79" stroke="#c8186e" stroke-width="0.7"/>
<line x1="366.1" y1="316.79" x2="369.9" y2="316.79" stroke="#c8186e" stroke-width="0.9"/>
<rect x="375.5" y="299.06" width="7" height="32.29" fill="#d0106c" stroke="#a80f58" stroke-width="1"/>
<line x1="379" y1="284.64" x2="379" y2="299.06" stroke="#a80f58" stroke-width="0.7"/>
<line x1="377.1" y1="284.64" x2="380.9" y2="284.64" stroke="#a80f58" stroke-width="0.9"/>
<rect x="394.3" y="288.85" width="7" height="42.5" fill="#ef9cc6" stroke="#c8186e" stroke-width="1"/>
<line x1="397.8" y1="285.85" x2="397.8" y2="288.85" stroke="#c8186e" stroke-width="0.7"/>
<line x1="395.9" y1="285.85" x2="399.7" y2="285.85" stroke="#c8186e" stroke-width="0.9"/>
<rect x="405.3" y="288.85" width="7" height="42.5" fill="#d0106c" stroke="#a80f58" stroke-width="1"/>
<line x1="408.8" y1="287.05" x2="408.8" y2="288.85" stroke="#a80f58" stroke-width="0.7"/>
<line x1="406.9" y1="287.05" x2="410.7" y2="287.05" stroke="#a80f58" stroke-width="0.9"/>
<rect x="424.15" y="287.65" width="7" height="43.7" fill="#ef9cc6" stroke="#c8186e" stroke-width="1"/>
<line x1="427.65" y1="285.24" x2="427.65" y2="287.65" stroke="#c8186e" stroke-width="0.7"/>
<line x1="425.75" y1="285.24" x2="429.55" y2="285.24" stroke="#c8186e" stroke-width="0.9"/>
<rect x="435.15" y="291.85" width="7" height="39.5" fill="#d0106c" stroke="#a80f58" stroke-width="1"/>
<line x1="438.65" y1="288.25" x2="438.65" y2="291.85" stroke="#a80f58" stroke-width="0.7"/>
<line x1="436.75" y1="288.25" x2="440.55" y2="288.25" stroke="#a80f58" stroke-width="0.9"/>
<rect x="453.6" y="287.65" width="7" height="43.7" fill="#ef9cc6" stroke="#c8186e" stroke-width="1"/>
<line x1="457.1" y1="285.85" x2="457.1" y2="287.65" stroke="#c8186e" stroke-width="0.7"/>
<line x1="455.2" y1="285.85" x2="459" y2="285.85" stroke="#c8186e" stroke-width="0.9"/>
<rect x="464.6" y="292.45" width="7" height="38.9" fill="#d0106c" stroke="#a80f58" stroke-width="1"/>
<line x1="468.1" y1="290.05" x2="468.1" y2="292.45" stroke="#a80f58" stroke-width="0.7"/>
<line x1="466.2" y1="290.05" x2="470" y2="290.05" stroke="#a80f58" stroke-width="0.9"/>
<line x1="360.7" y1="320.07" x2="476" y2="320.07" stroke="#000" stroke-width="1.2" stroke-dasharray="1.3 1.9"/>
<clipPath id="clm"><rect x="358.5" y="0" width="130" height="331.35"/></clipPath>
<g clip-path="url(#clm)">
<path d="M366.5 287.35L368.5 290.95L364.5 290.95Z" fill="#fff" fill-opacity="0.75" stroke="#c0136b" stroke-width="0.9"/>
<path d="M369.5 287.35L371.5 290.95L367.5 290.95Z" fill="#fff" fill-opacity="0.75" stroke="#c0136b" stroke-width="0.9"/>
<path d="M368 290.35L370 293.95L366 293.95Z" fill="#fff" fill-opacity="0.75" stroke="#c0136b" stroke-width="0.9"/>
<path d="M368 323.4L370 327L366 327Z" fill="#fff" fill-opacity="0.75" stroke="#c0136b" stroke-width="0.9"/>
<rect x="377.55" y="288" width="2.9" height="2.9" fill="#fff" stroke="#c0136b" stroke-width="0.9"/>
<rect x="377.55" y="291" width="2.9" height="2.9" fill="#fff" stroke="#c0136b" stroke-width="0.9"/>
<rect x="377.55" y="294.01" width="2.9" height="2.9" fill="#fff" stroke="#c0136b" stroke-width="0.9"/>
<rect x="377.55" y="318.04" width="2.9" height="2.9" fill="#fff" stroke="#c0136b" stroke-width="0.9"/>
<path d="M397.8 281.34L399.8 284.94L395.8 284.94Z" fill="#fff" fill-opacity="0.75" stroke="#c0136b" stroke-width="0.9"/>
<path d="M396.3 287.35L398.3 290.95L394.3 290.95Z" fill="#fff" fill-opacity="0.75" stroke="#c0136b" stroke-width="0.9"/>
<path d="M399.3 287.35L401.3 290.95L397.3 290.95Z" fill="#fff" fill-opacity="0.75" stroke="#c0136b" stroke-width="0.9"/>
<path d="M397.8 290.35L399.8 293.95L395.8 293.95Z" fill="#fff" fill-opacity="0.75" stroke="#c0136b" stroke-width="0.9"/>
<rect x="406.05" y="288" width="2.9" height="2.9" fill="#fff" stroke="#c0136b" stroke-width="0.9"/>
<rect x="408.65" y="288" width="2.9" height="2.9" fill="#fff" stroke="#c0136b" stroke-width="0.9"/>
<rect x="406.05" y="294.01" width="2.9" height="2.9" fill="#fff" stroke="#c0136b" stroke-width="0.9"/>
<rect x="408.65" y="294.01" width="2.9" height="2.9" fill="#fff" stroke="#c0136b" stroke-width="0.9"/>
<path d="M426.15 281.34L428.15 284.94L424.15 284.94Z" fill="#fff" fill-opacity="0.75" stroke="#c0136b" stroke-width="0.9"/>
<path d="M429.15 281.34L431.15 284.94L427.15 284.94Z" fill="#fff" fill-opacity="0.75" stroke="#c0136b" stroke-width="0.9"/>
<path d="M427.65 287.35L429.65 290.95L425.65 290.95Z" fill="#fff" fill-opacity="0.75" stroke="#c0136b" stroke-width="0.9"/>
<path d="M427.65 293.36L429.65 296.96L425.65 296.96Z" fill="#fff" fill-opacity="0.75" stroke="#c0136b" stroke-width="0.9"/>
<rect x="437.2" y="285" width="2.9" height="2.9" fill="#fff" stroke="#c0136b" stroke-width="0.9"/>
<rect x="437.2" y="288" width="2.9" height="2.9" fill="#fff" stroke="#c0136b" stroke-width="0.9"/>
<rect x="437.2" y="291" width="2.9" height="2.9" fill="#fff" stroke="#c0136b" stroke-width="0.9"/>
<rect x="437.2" y="294.01" width="2.9" height="2.9" fill="#fff" stroke="#c0136b" stroke-width="0.9"/>
<path d="M456.4 284.35L458.4 287.95L454.4 287.95Z" fill="#fff" fill-opacity="0.75" stroke="#c0136b" stroke-width="0.9"/>
<path d="M457.8 284.35L459.8 287.95L455.8 287.95Z" fill="#fff" fill-opacity="0.75" stroke="#c0136b" stroke-width="0.9"/>
<path d="M456.4 287.35L458.4 290.95L454.4 290.95Z" fill="#fff" fill-opacity="0.75" stroke="#c0136b" stroke-width="0.9"/>
<path d="M457.8 287.35L459.8 290.95L455.8 290.95Z" fill="#fff" fill-opacity="0.75" stroke="#c0136b" stroke-width="0.9"/>
<rect x="466.65" y="288" width="2.9" height="2.9" fill="#fff" stroke="#c0136b" stroke-width="0.9"/>
<rect x="465.95" y="291" width="2.9" height="2.9" fill="#fff" stroke="#c0136b" stroke-width="0.9"/>
<rect x="467.35" y="291" width="2.9" height="2.9" fill="#fff" stroke="#c0136b" stroke-width="0.9"/>
<rect x="466.65" y="294.01" width="2.9" height="2.9" fill="#fff" stroke="#c0136b" stroke-width="0.9"/>
</g>
<path d="M358.5 252.9V331.35H478.5" fill="none" stroke="#1a1a1a" stroke-width="1"/>
<line x1="355.7" y1="325.5" x2="358.5" y2="325.5" stroke="#1a1a1a" stroke-width="1"/>
<text x="354.3" y="329" text-anchor="end" class="tk">2</text>
<line x1="355.7" y1="313.48" x2="358.5" y2="313.48" stroke="#1a1a1a" stroke-width="1"/>
<text x="354.3" y="316.98" text-anchor="end" class="tk">4</text>
<line x1="355.7" y1="301.47" x2="358.5" y2="301.47" stroke="#1a1a1a" stroke-width="1"/>
<text x="354.3" y="304.97" text-anchor="end" class="tk">6</text>
<line x1="355.7" y1="289.45" x2="358.5" y2="289.45" stroke="#1a1a1a" stroke-width="1"/>
<text x="354.3" y="292.95" text-anchor="end" class="tk">8</text>
<line x1="355.7" y1="277.43" x2="358.5" y2="277.43" stroke="#1a1a1a" stroke-width="1"/>
<text x="354.3" y="280.93" text-anchor="end" class="tk">10</text>
<line x1="355.7" y1="265.42" x2="358.5" y2="265.42" stroke="#1a1a1a" stroke-width="1"/>
<text x="354.3" y="268.92" text-anchor="end" class="tk">12</text>
<line x1="355.7" y1="253.4" x2="358.5" y2="253.4" stroke="#1a1a1a" stroke-width="1"/>
<text x="354.3" y="256.9" text-anchor="end" class="tk">14</text>
<line x1="373.5" y1="331.35" x2="373.5" y2="334.65" stroke="#1a1a1a" stroke-width="1"/>
<text x="373.5" y="343.55" text-anchor="middle" class="tk">3</text>
<line x1="403.3" y1="331.35" x2="403.3" y2="334.65" stroke="#1a1a1a" stroke-width="1"/>
<text x="403.3" y="343.55" text-anchor="middle" class="tk">4</text>
<line x1="433.15" y1="331.35" x2="433.15" y2="334.65" stroke="#1a1a1a" stroke-width="1"/>
<text x="433.15" y="343.55" text-anchor="middle" class="tk">5</text>
<line x1="462.6" y1="331.35" x2="462.6" y2="334.65" stroke="#1a1a1a" stroke-width="1"/>
<text x="462.6" y="343.55" text-anchor="middle" class="tk">6</text>
<text transform="translate(340.2 293.77) rotate(-90)" text-anchor="middle" class="yt">Log<tspan font-size="5" dy="1.6">2</tspan><tspan dy="-1.6"> MN</tspan></text>
<rect x="517.5" y="295.88" width="7" height="35.52" fill="#ef9cc6" stroke="#c8186e" stroke-width="1"/>
<line x1="521" y1="292.56" x2="521" y2="295.88" stroke="#c8186e" stroke-width="0.7"/>
<line x1="519.1" y1="292.56" x2="522.9" y2="292.56" stroke="#c8186e" stroke-width="0.9"/>
<rect x="528.5" y="307.02" width="7" height="24.38" fill="#d0106c" stroke="#a80f58" stroke-width="1"/>
<line x1="532" y1="289.55" x2="532" y2="307.02" stroke="#a80f58" stroke-width="0.7"/>
<line x1="530.1" y1="289.55" x2="533.9" y2="289.55" stroke="#a80f58" stroke-width="0.9"/>
<line x1="532" y1="307.02" x2="532" y2="324.5" stroke="#a80f58" stroke-width="0.7"/>
<line x1="530.1" y1="324.5" x2="533.9" y2="324.5" stroke="#a80f58" stroke-width="0.9"/>
<rect x="547.8" y="288.95" width="7" height="42.45" fill="#ef9cc6" stroke="#c8186e" stroke-width="1"/>
<line x1="551.3" y1="285.94" x2="551.3" y2="288.95" stroke="#c8186e" stroke-width="0.7"/>
<line x1="549.4" y1="285.94" x2="553.2" y2="285.94" stroke="#c8186e" stroke-width="0.9"/>
<rect x="558.8" y="288.95" width="7" height="42.45" fill="#d0106c" stroke="#a80f58" stroke-width="1"/>
<rect x="577.9" y="287.74" width="7" height="43.66" fill="#ef9cc6" stroke="#c8186e" stroke-width="1"/>
<line x1="581.4" y1="283.52" x2="581.4" y2="287.74" stroke="#c8186e" stroke-width="0.7"/>
<line x1="579.5" y1="283.52" x2="583.3" y2="283.52" stroke="#c8186e" stroke-width="0.9"/>
<rect x="588.9" y="288.95" width="7" height="42.45" fill="#d0106c" stroke="#a80f58" stroke-width="1"/>
<line x1="592.4" y1="287.74" x2="592.4" y2="288.95" stroke="#a80f58" stroke-width="0.7"/>
<line x1="590.5" y1="287.74" x2="594.3" y2="287.74" stroke="#a80f58" stroke-width="0.9"/>
<rect x="608.3" y="290.45" width="7" height="40.95" fill="#ef9cc6" stroke="#c8186e" stroke-width="1"/>
<line x1="611.8" y1="286.54" x2="611.8" y2="290.45" stroke="#c8186e" stroke-width="0.7"/>
<line x1="609.9" y1="286.54" x2="613.7" y2="286.54" stroke="#c8186e" stroke-width="0.9"/>
<rect x="619.3" y="285.94" width="7" height="45.46" fill="#d0106c" stroke="#a80f58" stroke-width="1"/>
<line x1="622.8" y1="283.52" x2="622.8" y2="285.94" stroke="#a80f58" stroke-width="0.7"/>
<line x1="620.9" y1="283.52" x2="624.7" y2="283.52" stroke="#a80f58" stroke-width="0.9"/>
<line x1="513.7" y1="320.1" x2="625.5" y2="320.1" stroke="#000" stroke-width="1.2" stroke-dasharray="1.3 1.9"/>
<clipPath id="cln"><rect x="511.5" y="0" width="126.5" height="331.4"/></clipPath>
<g clip-path="url(#cln)">
<path d="M521 287.45L523 291.05L519 291.05Z" fill="#fff" fill-opacity="0.75" stroke="#c0136b" stroke-width="0.9"/>
<path d="M519.5 293.47L521.5 297.07L517.5 297.07Z" fill="#fff" fill-opacity="0.75" stroke="#c0136b" stroke-width="0.9"/>
<path d="M522.5 293.47L524.5 297.07L520.5 297.07Z" fill="#fff" fill-opacity="0.75" stroke="#c0136b" stroke-width="0.9"/>
<path d="M521 296.49L523 300.09L519 300.09Z" fill="#fff" fill-opacity="0.75" stroke="#c0136b" stroke-width="0.9"/>
<rect x="530.55" y="288.1" width="2.9" height="2.9" fill="#fff" stroke="#c0136b" stroke-width="0.9"/>
<rect x="530.55" y="300.15" width="2.9" height="2.9" fill="#fff" stroke="#c0136b" stroke-width="0.9"/>
<rect x="530.55" y="306.18" width="2.9" height="2.9" fill="#fff" stroke="#c0136b" stroke-width="0.9"/>
<rect x="530.55" y="324.25" width="2.9" height="2.9" fill="#fff" stroke="#c0136b" stroke-width="0.9"/>
<path d="M551.3 281.42L553.3 285.02L549.3 285.02Z" fill="#fff" fill-opacity="0.75" stroke="#c0136b" stroke-width="0.9"/>
<path d="M549.8 287.45L551.8 291.05L547.8 291.05Z" fill="#fff" fill-opacity="0.75" stroke="#c0136b" stroke-width="0.9"/>
<path d="M551.3 287.45L553.3 291.05L549.3 291.05Z" fill="#fff" fill-opacity="0.75" stroke="#c0136b" stroke-width="0.9"/>
<path d="M552.8 287.45L554.8 291.05L550.8 291.05Z" fill="#fff" fill-opacity="0.75" stroke="#c0136b" stroke-width="0.9"/>
<rect x="558.75" y="288.1" width="2.9" height="2.9" fill="#fff" stroke="#c0136b" stroke-width="0.9"/>
<rect x="560.15" y="288.1" width="2.9" height="2.9" fill="#fff" stroke="#c0136b" stroke-width="0.9"/>
<rect x="561.55" y="288.1" width="2.9" height="2.9" fill="#fff" stroke="#c0136b" stroke-width="0.9"/>
<rect x="562.95" y="288.1" width="2.9" height="2.9" fill="#fff" stroke="#c0136b" stroke-width="0.9"/>
<path d="M581.4 281.42L583.4 285.02L579.4 285.02Z" fill="#fff" fill-opacity="0.75" stroke="#c0136b" stroke-width="0.9"/>
<path d="M580.7 284.44L582.7 288.04L578.7 288.04Z" fill="#fff" fill-opacity="0.75" stroke="#c0136b" stroke-width="0.9"/>
<path d="M582.1 284.44L584.1 288.04L580.1 288.04Z" fill="#fff" fill-opacity="0.75" stroke="#c0136b" stroke-width="0.9"/>
<path d="M581.4 293.47L583.4 297.07L579.4 297.07Z" fill="#fff" fill-opacity="0.75" stroke="#c0136b" stroke-width="0.9"/>
<rect x="589.65" y="288.1" width="2.9" height="2.9" fill="#fff" stroke="#c0136b" stroke-width="0.9"/>
<rect x="592.25" y="288.1" width="2.9" height="2.9" fill="#fff" stroke="#c0136b" stroke-width="0.9"/>
<rect x="590.95" y="291.11" width="2.9" height="2.9" fill="#fff" stroke="#c0136b" stroke-width="0.9"/>
<path d="M610.3 284.44L612.3 288.04L608.3 288.04Z" fill="#fff" fill-opacity="0.75" stroke="#c0136b" stroke-width="0.9"/>
<path d="M613.3 284.44L615.3 288.04L611.3 288.04Z" fill="#fff" fill-opacity="0.75" stroke="#c0136b" stroke-width="0.9"/>
<path d="M611.8 290.46L613.8 294.06L609.8 294.06Z" fill="#fff" fill-opacity="0.75" stroke="#c0136b" stroke-width="0.9"/>
<path d="M611.8 293.47L613.8 297.07L609.8 297.07Z" fill="#fff" fill-opacity="0.75" stroke="#c0136b" stroke-width="0.9"/>
<rect x="621.35" y="282.07" width="2.9" height="2.9" fill="#fff" stroke="#c0136b" stroke-width="0.9"/>
<rect x="621.35" y="285.09" width="2.9" height="2.9" fill="#fff" stroke="#c0136b" stroke-width="0.9"/>
<rect x="620.05" y="288.1" width="2.9" height="2.9" fill="#fff" stroke="#c0136b" stroke-width="0.9"/>
<rect x="622.65" y="288.1" width="2.9" height="2.9" fill="#fff" stroke="#c0136b" stroke-width="0.9"/>
</g>
<path d="M511.5 252.9V331.4H628" fill="none" stroke="#1a1a1a" stroke-width="1"/>
<line x1="508.7" y1="325.7" x2="511.5" y2="325.7" stroke="#1a1a1a" stroke-width="1"/>
<text x="507.3" y="329.2" text-anchor="end" class="tk">2</text>
<line x1="508.7" y1="313.65" x2="511.5" y2="313.65" stroke="#1a1a1a" stroke-width="1"/>
<text x="507.3" y="317.15" text-anchor="end" class="tk">4</text>
<line x1="508.7" y1="301.6" x2="511.5" y2="301.6" stroke="#1a1a1a" stroke-width="1"/>
<text x="507.3" y="305.1" text-anchor="end" class="tk">6</text>
<line x1="508.7" y1="289.55" x2="511.5" y2="289.55" stroke="#1a1a1a" stroke-width="1"/>
<text x="507.3" y="293.05" text-anchor="end" class="tk">8</text>
<line x1="508.7" y1="277.5" x2="511.5" y2="277.5" stroke="#1a1a1a" stroke-width="1"/>
<text x="507.3" y="281" text-anchor="end" class="tk">10</text>
<line x1="508.7" y1="265.45" x2="511.5" y2="265.45" stroke="#1a1a1a" stroke-width="1"/>
<text x="507.3" y="268.95" text-anchor="end" class="tk">12</text>
<line x1="508.7" y1="253.4" x2="511.5" y2="253.4" stroke="#1a1a1a" stroke-width="1"/>
<text x="507.3" y="256.9" text-anchor="end" class="tk">14</text>
<line x1="526.5" y1="331.4" x2="526.5" y2="334.7" stroke="#1a1a1a" stroke-width="1"/>
<text x="526.5" y="343.6" text-anchor="middle" class="tk">3</text>
<line x1="556.8" y1="331.4" x2="556.8" y2="334.7" stroke="#1a1a1a" stroke-width="1"/>
<text x="556.8" y="343.6" text-anchor="middle" class="tk">4</text>
<line x1="586.9" y1="331.4" x2="586.9" y2="334.7" stroke="#1a1a1a" stroke-width="1"/>
<text x="586.9" y="343.6" text-anchor="middle" class="tk">5</text>
<line x1="617.3" y1="331.4" x2="617.3" y2="334.7" stroke="#1a1a1a" stroke-width="1"/>
<text x="617.3" y="343.6" text-anchor="middle" class="tk">6</text>
<text transform="translate(493.2 293.8) rotate(-90)" text-anchor="middle" class="yt">Log<tspan font-size="5" dy="1.6">2</tspan><tspan dy="-1.6"> MN</tspan></text>
<rect x="55.55" y="395.15" width="12.9" height="38.95" fill="#7f4da0" stroke="#55297f" stroke-width="1"/>
<line x1="62" y1="387.46" x2="62" y2="395.15" stroke="#55297f" stroke-width="0.7"/>
<line x1="60.1" y1="387.46" x2="63.9" y2="387.46" stroke="#55297f" stroke-width="0.9"/>
<rect x="83.55" y="387.46" width="12.9" height="46.64" fill="#7f4da0" stroke="#55297f" stroke-width="1"/>
<rect x="111.35" y="389.28" width="12.9" height="44.82" fill="#7f4da0" stroke="#55297f" stroke-width="1"/>
<line x1="117.8" y1="385.65" x2="117.8" y2="389.28" stroke="#55297f" stroke-width="0.7"/>
<line x1="115.9" y1="385.65" x2="119.7" y2="385.65" stroke="#55297f" stroke-width="0.9"/>
<rect x="139.15" y="390.79" width="12.9" height="43.31" fill="#7f4da0" stroke="#55297f" stroke-width="1"/>
<line x1="145.6" y1="387.46" x2="145.6" y2="390.79" stroke="#55297f" stroke-width="0.7"/>
<line x1="143.7" y1="387.46" x2="147.5" y2="387.46" stroke="#55297f" stroke-width="0.9"/>
<line x1="47" y1="428" x2="160.8" y2="428" stroke="#000" stroke-width="1.2" stroke-dasharray="1.3 1.9"/>
<clipPath id="clg"><rect x="44.8" y="0" width="128.5" height="434.1"/></clipPath>
<g clip-path="url(#clg)">
<rect x="60.55" y="384.2" width="2.9" height="2.9" fill="#fff" stroke="#5c2f88" stroke-width="0.9"/>
<rect x="60.55" y="390.25" width="2.9" height="2.9" fill="#fff" stroke="#5c2f88" stroke-width="0.9"/>
<rect x="60.55" y="396.3" width="2.9" height="2.9" fill="#fff" stroke="#5c2f88" stroke-width="0.9"/>
<rect x="60.55" y="402.35" width="2.9" height="2.9" fill="#fff" stroke="#5c2f88" stroke-width="0.9"/>
<rect x="84.05" y="384.2" width="2.9" height="2.9" fill="#fff" stroke="#5c2f88" stroke-width="0.9"/>
<rect x="87.05" y="384.2" width="2.9" height="2.9" fill="#fff" stroke="#5c2f88" stroke-width="0.9"/>
<rect x="90.05" y="384.2" width="2.9" height="2.9" fill="#fff" stroke="#5c2f88" stroke-width="0.9"/>
<rect x="93.05" y="384.2" width="2.9" height="2.9" fill="#fff" stroke="#5c2f88" stroke-width="0.9"/>
<rect x="88.55" y="390.25" width="2.9" height="2.9" fill="#fff" stroke="#5c2f88" stroke-width="0.9"/>
<rect x="112.85" y="384.2" width="2.9" height="2.9" fill="#fff" stroke="#5c2f88" stroke-width="0.9"/>
<rect x="119.85" y="384.2" width="2.9" height="2.9" fill="#fff" stroke="#5c2f88" stroke-width="0.9"/>
<rect x="112.85" y="390.25" width="2.9" height="2.9" fill="#fff" stroke="#5c2f88" stroke-width="0.9"/>
<rect x="119.85" y="390.25" width="2.9" height="2.9" fill="#fff" stroke="#5c2f88" stroke-width="0.9"/>
<rect x="144.15" y="384.2" width="2.9" height="2.9" fill="#fff" stroke="#5c2f88" stroke-width="0.9"/>
<rect x="140.65" y="390.25" width="2.9" height="2.9" fill="#fff" stroke="#5c2f88" stroke-width="0.9"/>
<rect x="144.15" y="390.25" width="2.9" height="2.9" fill="#fff" stroke="#5c2f88" stroke-width="0.9"/>
<rect x="147.65" y="390.25" width="2.9" height="2.9" fill="#fff" stroke="#5c2f88" stroke-width="0.9"/>
</g>
<path d="M44.8 354.9V434.1H163.3" fill="none" stroke="#1a1a1a" stroke-width="1"/>
<line x1="42" y1="428" x2="44.8" y2="428" stroke="#1a1a1a" stroke-width="1"/>
<text x="40.6" y="431.5" text-anchor="end" class="tk">2</text>
<line x1="42" y1="415.9" x2="44.8" y2="415.9" stroke="#1a1a1a" stroke-width="1"/>
<text x="40.6" y="419.4" text-anchor="end" class="tk">4</text>
<line x1="42" y1="403.8" x2="44.8" y2="403.8" stroke="#1a1a1a" stroke-width="1"/>
<text x="40.6" y="407.3" text-anchor="end" class="tk">6</text>
<line x1="42" y1="391.7" x2="44.8" y2="391.7" stroke="#1a1a1a" stroke-width="1"/>
<text x="40.6" y="395.2" text-anchor="end" class="tk">8</text>
<line x1="42" y1="379.6" x2="44.8" y2="379.6" stroke="#1a1a1a" stroke-width="1"/>
<text x="40.6" y="383.1" text-anchor="end" class="tk">10</text>
<line x1="42" y1="367.5" x2="44.8" y2="367.5" stroke="#1a1a1a" stroke-width="1"/>
<text x="40.6" y="371" text-anchor="end" class="tk">12</text>
<line x1="42" y1="355.4" x2="44.8" y2="355.4" stroke="#1a1a1a" stroke-width="1"/>
<text x="40.6" y="358.9" text-anchor="end" class="tk">14</text>
<line x1="62" y1="434.1" x2="62" y2="437.4" stroke="#1a1a1a" stroke-width="1"/>
<text x="62" y="446.3" text-anchor="middle" class="tk">3</text>
<line x1="90" y1="434.1" x2="90" y2="437.4" stroke="#1a1a1a" stroke-width="1"/>
<text x="90" y="446.3" text-anchor="middle" class="tk">4</text>
<line x1="117.8" y1="434.1" x2="117.8" y2="437.4" stroke="#1a1a1a" stroke-width="1"/>
<text x="117.8" y="446.3" text-anchor="middle" class="tk">5</text>
<line x1="145.6" y1="434.1" x2="145.6" y2="437.4" stroke="#1a1a1a" stroke-width="1"/>
<text x="145.6" y="446.3" text-anchor="middle" class="tk">6</text>
<text transform="translate(26.5 395.75) rotate(-90)" text-anchor="middle" class="yt">Log<tspan font-size="5" dy="1.6">2</tspan><tspan dy="-1.6"> HAI</tspan></text>
<rect x="206.05" y="379.37" width="12.9" height="55.03" fill="#7f4da0" stroke="#55297f" stroke-width="1"/>
<line x1="212.5" y1="376.15" x2="212.5" y2="379.37" stroke="#55297f" stroke-width="0.7"/>
<line x1="210.6" y1="376.15" x2="214.4" y2="376.15" stroke="#55297f" stroke-width="0.9"/>
<rect x="233.55" y="380.41" width="12.9" height="53.99" fill="#7f4da0" stroke="#55297f" stroke-width="1"/>
<line x1="240" y1="376.15" x2="240" y2="380.41" stroke="#55297f" stroke-width="0.7"/>
<line x1="238.1" y1="376.15" x2="241.9" y2="376.15" stroke="#55297f" stroke-width="0.9"/>
<line x1="240" y1="380.41" x2="240" y2="384.66" stroke="#55297f" stroke-width="0.7"/>
<line x1="238.1" y1="384.66" x2="241.9" y2="384.66" stroke="#55297f" stroke-width="0.9"/>
<rect x="261.45" y="380.41" width="12.9" height="53.99" fill="#7f4da0" stroke="#55297f" stroke-width="1"/>
<line x1="267.9" y1="376.15" x2="267.9" y2="380.41" stroke="#55297f" stroke-width="0.7"/>
<line x1="266" y1="376.15" x2="269.8" y2="376.15" stroke="#55297f" stroke-width="0.9"/>
<line x1="267.9" y1="380.41" x2="267.9" y2="384.66" stroke="#55297f" stroke-width="0.7"/>
<line x1="266" y1="384.66" x2="269.8" y2="384.66" stroke="#55297f" stroke-width="0.9"/>
<rect x="289.55" y="380.41" width="12.9" height="53.99" fill="#7f4da0" stroke="#55297f" stroke-width="1"/>
<line x1="296" y1="376.15" x2="296" y2="380.41" stroke="#55297f" stroke-width="0.7"/>
<line x1="294.1" y1="376.15" x2="297.9" y2="376.15" stroke="#55297f" stroke-width="0.9"/>
<line x1="296" y1="380.41" x2="296" y2="384.66" stroke="#55297f" stroke-width="0.7"/>
<line x1="294.1" y1="384.66" x2="297.9" y2="384.66" stroke="#55297f" stroke-width="0.9"/>
<line x1="197.6" y1="428.4" x2="310.3" y2="428.4" stroke="#000" stroke-width="1.2" stroke-dasharray="1.3 1.9"/>
<clipPath id="clh"><rect x="195.4" y="0" width="127.4" height="434.4"/></clipPath>
<g clip-path="url(#clh)">
<rect x="211.05" y="372.28" width="2.9" height="2.9" fill="#fff" stroke="#5c2f88" stroke-width="0.9"/>
<rect x="207.55" y="378.35" width="2.9" height="2.9" fill="#fff" stroke="#5c2f88" stroke-width="0.9"/>
<rect x="211.05" y="378.35" width="2.9" height="2.9" fill="#fff" stroke="#5c2f88" stroke-width="0.9"/>
<rect x="214.55" y="378.35" width="2.9" height="2.9" fill="#fff" stroke="#5c2f88" stroke-width="0.9"/>
<rect x="238.55" y="372.28" width="2.9" height="2.9" fill="#fff" stroke="#5c2f88" stroke-width="0.9"/>
<rect x="235.05" y="378.35" width="2.9" height="2.9" fill="#fff" stroke="#5c2f88" stroke-width="0.9"/>
<rect x="242.05" y="378.35" width="2.9" height="2.9" fill="#fff" stroke="#5c2f88" stroke-width="0.9"/>
<rect x="238.55" y="384.43" width="2.9" height="2.9" fill="#fff" stroke="#5c2f88" stroke-width="0.9"/>
<rect x="266.45" y="372.28" width="2.9" height="2.9" fill="#fff" stroke="#5c2f88" stroke-width="0.9"/>
<rect x="262.95" y="378.35" width="2.9" height="2.9" fill="#fff" stroke="#5c2f88" stroke-width="0.9"/>
<rect x="269.95" y="378.35" width="2.9" height="2.9" fill="#fff" stroke="#5c2f88" stroke-width="0.9"/>
<rect x="266.45" y="384.43" width="2.9" height="2.9" fill="#fff" stroke="#5c2f88" stroke-width="0.9"/>
<rect x="294.55" y="372.28" width="2.9" height="2.9" fill="#fff" stroke="#5c2f88" stroke-width="0.9"/>
<rect x="291.05" y="378.35" width="2.9" height="2.9" fill="#fff" stroke="#5c2f88" stroke-width="0.9"/>
<rect x="298.05" y="378.35" width="2.9" height="2.9" fill="#fff" stroke="#5c2f88" stroke-width="0.9"/>
<rect x="294.55" y="384.43" width="2.9" height="2.9" fill="#fff" stroke="#5c2f88" stroke-width="0.9"/>
</g>
<path d="M195.4 355V434.4H312.8" fill="none" stroke="#1a1a1a" stroke-width="1"/>
<line x1="192.6" y1="428.4" x2="195.4" y2="428.4" stroke="#1a1a1a" stroke-width="1"/>
<text x="191.2" y="431.9" text-anchor="end" class="tk">2</text>
<line x1="192.6" y1="416.25" x2="195.4" y2="416.25" stroke="#1a1a1a" stroke-width="1"/>
<text x="191.2" y="419.75" text-anchor="end" class="tk">4</text>
<line x1="192.6" y1="404.1" x2="195.4" y2="404.1" stroke="#1a1a1a" stroke-width="1"/>
<text x="191.2" y="407.6" text-anchor="end" class="tk">6</text>
<line x1="192.6" y1="391.95" x2="195.4" y2="391.95" stroke="#1a1a1a" stroke-width="1"/>
<text x="191.2" y="395.45" text-anchor="end" class="tk">8</text>
<line x1="192.6" y1="379.8" x2="195.4" y2="379.8" stroke="#1a1a1a" stroke-width="1"/>
<text x="191.2" y="383.3" text-anchor="end" class="tk">10</text>
<line x1="192.6" y1="367.65" x2="195.4" y2="367.65" stroke="#1a1a1a" stroke-width="1"/>
<text x="191.2" y="371.15" text-anchor="end" class="tk">12</text>
<line x1="192.6" y1="355.5" x2="195.4" y2="355.5" stroke="#1a1a1a" stroke-width="1"/>
<text x="191.2" y="359" text-anchor="end" class="tk">14</text>
<line x1="212.5" y1="434.4" x2="212.5" y2="437.7" stroke="#1a1a1a" stroke-width="1"/>
<text x="212.5" y="446.6" text-anchor="middle" class="tk">3</text>
<line x1="240" y1="434.4" x2="240" y2="437.7" stroke="#1a1a1a" stroke-width="1"/>
<text x="240" y="446.6" text-anchor="middle" class="tk">4</text>
<line x1="267.9" y1="434.4" x2="267.9" y2="437.7" stroke="#1a1a1a" stroke-width="1"/>
<text x="267.9" y="446.6" text-anchor="middle" class="tk">5</text>
<line x1="296" y1="434.4" x2="296" y2="437.7" stroke="#1a1a1a" stroke-width="1"/>
<text x="296" y="446.6" text-anchor="middle" class="tk">6</text>
<text transform="translate(177.1 395.95) rotate(-90)" text-anchor="middle" class="yt">Log<tspan font-size="5" dy="1.6">2</tspan><tspan dy="-1.6"> HAI</tspan></text>
<rect x="370.55" y="382.77" width="12.9" height="51.62" fill="#7f4da0" stroke="#55297f" stroke-width="1"/>
<line x1="377" y1="376.08" x2="377" y2="382.77" stroke="#55297f" stroke-width="0.7"/>
<line x1="375.1" y1="376.08" x2="378.9" y2="376.08" stroke="#55297f" stroke-width="0.9"/>
<rect x="398.55" y="374.87" width="12.9" height="59.53" fill="#7f4da0" stroke="#55297f" stroke-width="1"/>
<rect x="426.35" y="376.69" width="12.9" height="57.71" fill="#7f4da0" stroke="#55297f" stroke-width="1"/>
<line x1="432.8" y1="373.65" x2="432.8" y2="376.69" stroke="#55297f" stroke-width="0.7"/>
<line x1="430.9" y1="373.65" x2="434.7" y2="373.65" stroke="#55297f" stroke-width="0.9"/>
<rect x="454.55" y="375.17" width="12.9" height="59.23" fill="#7f4da0" stroke="#55297f" stroke-width="1"/>
<line x1="361.6" y1="422.3" x2="476" y2="422.3" stroke="#000" stroke-width="1.2" stroke-dasharray="1.3 1.9"/>
<clipPath id="clo"><rect x="359.4" y="0" width="129.1" height="434.4"/></clipPath>
<g clip-path="url(#clo)">
<rect x="375.55" y="372.2" width="2.9" height="2.9" fill="#fff" stroke="#5c2f88" stroke-width="0.9"/>
<rect x="372.05" y="381.32" width="2.9" height="2.9" fill="#fff" stroke="#5c2f88" stroke-width="0.9"/>
<rect x="379.05" y="381.32" width="2.9" height="2.9" fill="#fff" stroke="#5c2f88" stroke-width="0.9"/>
<rect x="375.55" y="387.41" width="2.9" height="2.9" fill="#fff" stroke="#5c2f88" stroke-width="0.9"/>
<rect x="399.55" y="372.2" width="2.9" height="2.9" fill="#fff" stroke="#5c2f88" stroke-width="0.9"/>
<rect x="403.55" y="372.2" width="2.9" height="2.9" fill="#fff" stroke="#5c2f88" stroke-width="0.9"/>
<rect x="407.55" y="372.2" width="2.9" height="2.9" fill="#fff" stroke="#5c2f88" stroke-width="0.9"/>
<rect x="408.55" y="375.24" width="2.9" height="2.9" fill="#fff" stroke="#5c2f88" stroke-width="0.9"/>
<rect x="427.85" y="372.2" width="2.9" height="2.9" fill="#fff" stroke="#5c2f88" stroke-width="0.9"/>
<rect x="434.85" y="372.2" width="2.9" height="2.9" fill="#fff" stroke="#5c2f88" stroke-width="0.9"/>
<rect x="431.35" y="375.24" width="2.9" height="2.9" fill="#fff" stroke="#5c2f88" stroke-width="0.9"/>
<rect x="434.85" y="378.28" width="2.9" height="2.9" fill="#fff" stroke="#5c2f88" stroke-width="0.9"/>
<rect x="455.55" y="372.2" width="2.9" height="2.9" fill="#fff" stroke="#5c2f88" stroke-width="0.9"/>
<rect x="459.55" y="372.2" width="2.9" height="2.9" fill="#fff" stroke="#5c2f88" stroke-width="0.9"/>
<rect x="463.55" y="372.2" width="2.9" height="2.9" fill="#fff" stroke="#5c2f88" stroke-width="0.9"/>
<rect x="464.55" y="375.24" width="2.9" height="2.9" fill="#fff" stroke="#5c2f88" stroke-width="0.9"/>
</g>
<path d="M359.4 354.9V434.4H478.5" fill="none" stroke="#1a1a1a" stroke-width="1"/>
<line x1="356.6" y1="428.4" x2="359.4" y2="428.4" stroke="#1a1a1a" stroke-width="1"/>
<text x="355.2" y="431.9" text-anchor="end" class="tk">2</text>
<line x1="356.6" y1="416.23" x2="359.4" y2="416.23" stroke="#1a1a1a" stroke-width="1"/>
<text x="355.2" y="419.73" text-anchor="end" class="tk">4</text>
<line x1="356.6" y1="404.07" x2="359.4" y2="404.07" stroke="#1a1a1a" stroke-width="1"/>
<text x="355.2" y="407.57" text-anchor="end" class="tk">6</text>
<line x1="356.6" y1="391.9" x2="359.4" y2="391.9" stroke="#1a1a1a" stroke-width="1"/>
<text x="355.2" y="395.4" text-anchor="end" class="tk">8</text>
<line x1="356.6" y1="379.73" x2="359.4" y2="379.73" stroke="#1a1a1a" stroke-width="1"/>
<text x="355.2" y="383.23" text-anchor="end" class="tk">10</text>
<line x1="356.6" y1="367.57" x2="359.4" y2="367.57" stroke="#1a1a1a" stroke-width="1"/>
<text x="355.2" y="371.07" text-anchor="end" class="tk">12</text>
<line x1="356.6" y1="355.4" x2="359.4" y2="355.4" stroke="#1a1a1a" stroke-width="1"/>
<text x="355.2" y="358.9" text-anchor="end" class="tk">14</text>
<line x1="377" y1="434.4" x2="377" y2="437.7" stroke="#1a1a1a" stroke-width="1"/>
<text x="377" y="446.6" text-anchor="middle" class="tk">3</text>
<line x1="405" y1="434.4" x2="405" y2="437.7" stroke="#1a1a1a" stroke-width="1"/>
<text x="405" y="446.6" text-anchor="middle" class="tk">4</text>
<line x1="432.8" y1="434.4" x2="432.8" y2="437.7" stroke="#1a1a1a" stroke-width="1"/>
<text x="432.8" y="446.6" text-anchor="middle" class="tk">5</text>
<line x1="461" y1="434.4" x2="461" y2="437.7" stroke="#1a1a1a" stroke-width="1"/>
<text x="461" y="446.6" text-anchor="middle" class="tk">6</text>
<text transform="translate(341.1 396.6) rotate(-90)" text-anchor="middle" class="yt">Log<tspan font-size="5" dy="1.6">2</tspan><tspan dy="-1.6"> MN</tspan></text>
<rect x="522.75" y="376.15" width="12.9" height="58.25" fill="#7f4da0" stroke="#55297f" stroke-width="1"/>
<line x1="529.2" y1="373.12" x2="529.2" y2="376.15" stroke="#55297f" stroke-width="0.7"/>
<line x1="527.3" y1="373.12" x2="531.1" y2="373.12" stroke="#55297f" stroke-width="0.9"/>
<rect x="551.15" y="377.98" width="12.9" height="56.42" fill="#7f4da0" stroke="#55297f" stroke-width="1"/>
<line x1="557.6" y1="374.33" x2="557.6" y2="377.98" stroke="#55297f" stroke-width="0.7"/>
<line x1="555.7" y1="374.33" x2="559.5" y2="374.33" stroke="#55297f" stroke-width="0.9"/>
<rect x="579.05" y="377.98" width="12.9" height="56.42" fill="#7f4da0" stroke="#55297f" stroke-width="1"/>
<line x1="585.5" y1="376.15" x2="585.5" y2="377.98" stroke="#55297f" stroke-width="0.7"/>
<line x1="583.6" y1="376.15" x2="587.4" y2="376.15" stroke="#55297f" stroke-width="0.9"/>
<rect x="607.35" y="378.58" width="12.9" height="55.81" fill="#7f4da0" stroke="#55297f" stroke-width="1"/>
<line x1="613.8" y1="374.33" x2="613.8" y2="378.58" stroke="#55297f" stroke-width="0.7"/>
<line x1="611.9" y1="374.33" x2="615.7" y2="374.33" stroke="#55297f" stroke-width="0.9"/>
<line x1="513.7" y1="422.3" x2="627" y2="422.3" stroke="#000" stroke-width="1.2" stroke-dasharray="1.3 1.9"/>
<clipPath id="clp"><rect x="511.5" y="0" width="128" height="434.4"/></clipPath>
<g clip-path="url(#clp)">
<rect x="523.25" y="372.28" width="2.9" height="2.9" fill="#fff" stroke="#5c2f88" stroke-width="0.9"/>
<rect x="526.25" y="372.28" width="2.9" height="2.9" fill="#fff" stroke="#5c2f88" stroke-width="0.9"/>
<rect x="529.25" y="372.28" width="2.9" height="2.9" fill="#fff" stroke="#5c2f88" stroke-width="0.9"/>
<rect x="532.25" y="372.28" width="2.9" height="2.9" fill="#fff" stroke="#5c2f88" stroke-width="0.9"/>
<rect x="527.75" y="381.39" width="2.9" height="2.9" fill="#fff" stroke="#5c2f88" stroke-width="0.9"/>
<rect x="556.15" y="372.28" width="2.9" height="2.9" fill="#fff" stroke="#5c2f88" stroke-width="0.9"/>
<rect x="552.15" y="375.31" width="2.9" height="2.9" fill="#fff" stroke="#5c2f88" stroke-width="0.9"/>
<rect x="556.15" y="378.35" width="2.9" height="2.9" fill="#fff" stroke="#5c2f88" stroke-width="0.9"/>
<rect x="560.65" y="378.35" width="2.9" height="2.9" fill="#fff" stroke="#5c2f88" stroke-width="0.9"/>
<rect x="579.55" y="375.31" width="2.9" height="2.9" fill="#fff" stroke="#5c2f88" stroke-width="0.9"/>
<rect x="582.55" y="375.31" width="2.9" height="2.9" fill="#fff" stroke="#5c2f88" stroke-width="0.9"/>
<rect x="585.55" y="375.31" width="2.9" height="2.9" fill="#fff" stroke="#5c2f88" stroke-width="0.9"/>
<rect x="588.55" y="378.35" width="2.9" height="2.9" fill="#fff" stroke="#5c2f88" stroke-width="0.9"/>
<rect x="608.35" y="372.28" width="2.9" height="2.9" fill="#fff" stroke="#5c2f88" stroke-width="0.9"/>
<rect x="612.35" y="375.31" width="2.9" height="2.9" fill="#fff" stroke="#5c2f88" stroke-width="0.9"/>
<rect x="616.35" y="375.31" width="2.9" height="2.9" fill="#fff" stroke="#5c2f88" stroke-width="0.9"/>
<rect x="612.35" y="384.43" width="2.9" height="2.9" fill="#fff" stroke="#5c2f88" stroke-width="0.9"/>
</g>
<path d="M511.5 355V434.4H629.5" fill="none" stroke="#1a1a1a" stroke-width="1"/>
<line x1="508.7" y1="428.4" x2="511.5" y2="428.4" stroke="#1a1a1a" stroke-width="1"/>
<text x="507.3" y="431.9" text-anchor="end" class="tk">2</text>
<line x1="508.7" y1="416.25" x2="511.5" y2="416.25" stroke="#1a1a1a" stroke-width="1"/>
<text x="507.3" y="419.75" text-anchor="end" class="tk">4</text>
<line x1="508.7" y1="404.1" x2="511.5" y2="404.1" stroke="#1a1a1a" stroke-width="1"/>
<text x="507.3" y="407.6" text-anchor="end" class="tk">6</text>
<line x1="508.7" y1="391.95" x2="511.5" y2="391.95" stroke="#1a1a1a" stroke-width="1"/>
<text x="507.3" y="395.45" text-anchor="end" class="tk">8</text>
<line x1="508.7" y1="379.8" x2="511.5" y2="379.8" stroke="#1a1a1a" stroke-width="1"/>
<text x="507.3" y="383.3" text-anchor="end" class="tk">10</text>
<line x1="508.7" y1="367.65" x2="511.5" y2="367.65" stroke="#1a1a1a" stroke-width="1"/>
<text x="507.3" y="371.15" text-anchor="end" class="tk">12</text>
<line x1="508.7" y1="355.5" x2="511.5" y2="355.5" stroke="#1a1a1a" stroke-width="1"/>
<text x="507.3" y="359" text-anchor="end" class="tk">14</text>
<line x1="529.2" y1="434.4" x2="529.2" y2="437.7" stroke="#1a1a1a" stroke-width="1"/>
<text x="529.2" y="446.6" text-anchor="middle" class="tk">3</text>
<line x1="557.6" y1="434.4" x2="557.6" y2="437.7" stroke="#1a1a1a" stroke-width="1"/>
<text x="557.6" y="446.6" text-anchor="middle" class="tk">4</text>
<line x1="585.5" y1="434.4" x2="585.5" y2="437.7" stroke="#1a1a1a" stroke-width="1"/>
<text x="585.5" y="446.6" text-anchor="middle" class="tk">5</text>
<line x1="613.8" y1="434.4" x2="613.8" y2="437.7" stroke="#1a1a1a" stroke-width="1"/>
<text x="613.8" y="446.6" text-anchor="middle" class="tk">6</text>
<text transform="translate(493.2 396.65) rotate(-90)" text-anchor="middle" class="yt">Log<tspan font-size="5" dy="1.6">2</tspan><tspan dy="-1.6"> MN</tspan></text>
<text x="19.2" y="46.4" class="lt">a</text>
<text x="169.5" y="46.3" class="lt">b</text>
<text x="333.8" y="46.3" class="lt">i</text>
<text x="485.5" y="46.3" class="lt">j</text>
<text x="19.2" y="148.9" class="lt">c</text>
<text x="169.5" y="148.9" class="lt">d</text>
<text x="333.8" y="148.9" class="lt">k</text>
<text x="485.5" y="148.9" class="lt">l</text>
<text x="19.2" y="250.1" class="lt">e</text>
<text x="169.5" y="250.1" class="lt">f</text>
<text x="333.8" y="250.1" class="lt">m</text>
<text x="485.5" y="250.1" class="lt">n</text>
<text x="19.2" y="352" class="lt">g</text>
<text x="169.5" y="352" class="lt">h</text>
<text x="333.8" y="352" class="lt">o</text>
<text x="485.5" y="352" class="lt">p</text>
<text x="-0.5" y="54.3" class="rl" fill="#111" stroke="#111">H1N1</text>
<text x="-0.5" y="156.2" class="rl" fill="#3a4a8c" stroke="#3a4a8c">H3N2</text>
<text x="-0.5" y="256.3" class="rl" fill="#d6237f" stroke="#d6237f">BYam</text>
<text x="-0.5" y="359.9" class="rl" fill="#8a5cb0" stroke="#8a5cb0">BVic</text>
<text x="102.6" y="457.8" text-anchor="middle" class="yt">Dose (Log<tspan font-size="4.6" dy="1.8">10</tspan><tspan dy="-1.8"> FFU)</tspan></text>
<text x="253.5" y="457.8" text-anchor="middle" class="yt">Dose (Log<tspan font-size="4.6" dy="1.8">10</tspan><tspan dy="-1.8"> FFU)</tspan></text>
<text x="418.5" y="457.8" text-anchor="middle" class="yt">Dose (Log<tspan font-size="4.6" dy="1.8">10</tspan><tspan dy="-1.8"> FFU)</tspan></text>
<text x="569.5" y="457.8" text-anchor="middle" class="yt">Dose (Log<tspan font-size="4.6" dy="1.8">10</tspan><tspan dy="-1.8"> FFU)</tspan></text>
<circle cx="633.3" cy="49.7" r="1.8" fill="#000"/>
<text x="637.3" y="52.4" class="lg">Monovalent</text>
<path d="M633.3 59.4L635.3 62.8L631.3 62.8Z" fill="#fff" stroke="#000" stroke-width="0.8"/>
<text x="637.3" y="64.1" class="lg">Trivalent</text>
<rect x="631.8" y="71.3" width="3" height="3" fill="#fff" stroke="#000" stroke-width="0.8"/>
<text x="637.3" y="75.5" class="lg">Quadrivalent</text>
<path d="M633.3 154.1L635.3 157.5L631.3 157.5Z" fill="#fff" stroke="#2e3a87" stroke-width="0.8"/>
<text x="637.3" y="158.8" class="lg">Trivalent</text>
<rect x="631.8" y="165.7" width="3" height="3" fill="#fff" stroke="#2e3a87" stroke-width="0.8"/>
<text x="637.3" y="169.9" class="lg">Quadrivalent</text>
<path d="M633.3 251.5L635.3 254.9L631.3 254.9Z" fill="#fff" stroke="#c0136b" stroke-width="0.8"/>
<text x="637.3" y="256.2" class="lg">Trivalent</text>
<rect x="631.8" y="263.4" width="3" height="3" fill="#fff" stroke="#c0136b" stroke-width="0.8"/>
<text x="637.3" y="267.6" class="lg">Quadrivalent</text>
<rect x="631.8" y="355.1" width="3" height="3" fill="#fff" stroke="#5c2f88" stroke-width="0.8"/>
<text x="637.3" y="359.3" class="lg">Quadrivalent</text>
</svg></body></html>
